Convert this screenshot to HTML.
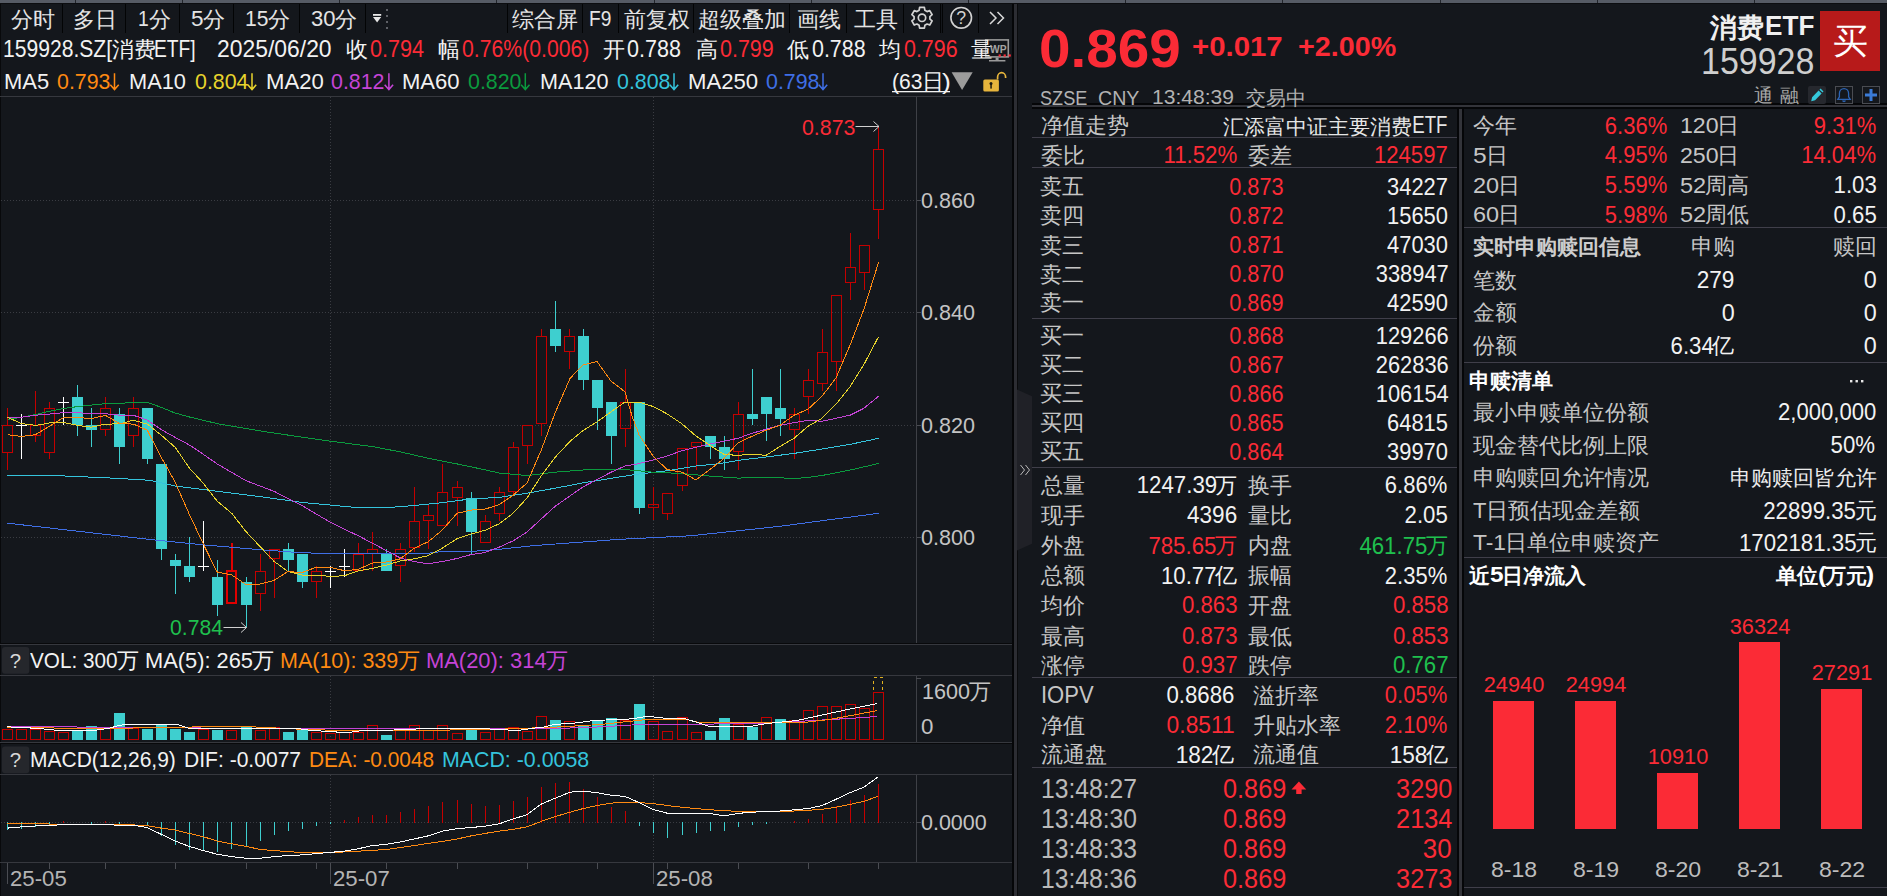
<!DOCTYPE html>
<html lang="zh"><head><meta charset="utf-8"><title>159928 消费ETF</title>
<style>
html,body{margin:0;padding:0;background:#14171c;}
body{width:1887px;height:896px;position:relative;overflow:hidden;font-family:"Liberation Sans",sans-serif;}
#g{position:absolute;left:0;top:0;}
.t{position:absolute;white-space:pre;line-height:1;}
.b{font-weight:700;}
</style></head><body>
<svg id="g" width="1887" height="896" viewBox="0 0 1887 896">
<rect x="0" y="0" width="1887" height="3" fill="#565b65"/>
<rect x="75" y="0" width="1" height="3" fill="#22252b"/>
<rect x="182" y="0" width="1" height="3" fill="#22252b"/>
<rect x="339" y="0" width="1" height="3" fill="#22252b"/>
<rect x="496" y="0" width="1" height="3" fill="#22252b"/>
<rect x="654" y="0" width="1" height="3" fill="#22252b"/>
<rect x="811" y="0" width="1" height="3" fill="#22252b"/>
<rect x="968" y="0" width="1" height="3" fill="#22252b"/>
<rect x="1125" y="0" width="1" height="3" fill="#22252b"/>
<rect x="1282" y="0" width="1" height="3" fill="#22252b"/>
<rect x="1440" y="0" width="1" height="3" fill="#22252b"/>
<rect x="1597" y="0" width="1" height="3" fill="#22252b"/>
<rect x="1754" y="0" width="1" height="3" fill="#22252b"/>
<rect x="0" y="3" width="1887" height="1" fill="#0c0d10"/>
<rect x="62" y="4" width="1" height="29" fill="#030405"/>
<rect x="125" y="4" width="1" height="29" fill="#030405"/>
<rect x="179" y="4" width="1" height="29" fill="#030405"/>
<rect x="233" y="4" width="1" height="29" fill="#030405"/>
<rect x="299" y="4" width="1" height="29" fill="#030405"/>
<rect x="365" y="4" width="1" height="29" fill="#030405"/>
<rect x="507" y="4" width="1" height="29" fill="#030405"/>
<rect x="582" y="4" width="1" height="29" fill="#030405"/>
<rect x="618" y="4" width="1" height="29" fill="#030405"/>
<rect x="693" y="4" width="1" height="29" fill="#030405"/>
<rect x="789" y="4" width="1" height="29" fill="#030405"/>
<rect x="846" y="4" width="1" height="29" fill="#030405"/>
<rect x="903" y="4" width="1" height="29" fill="#030405"/>
<rect x="940" y="4" width="1" height="29" fill="#030405"/>
<rect x="942" y="4" width="1" height="29" fill="#030405"/>
<rect x="978" y="4" width="1" height="29" fill="#030405"/>
<rect x="373" y="14" width="8.2" height="1.8" fill="#e8e8e8"/>
<path d="M373,17 H381.2 L377.1,22.6 Z" fill="#e8e8e8" stroke="none" stroke-width="1" shape-rendering="geometricPrecision"/>
<rect x="386" y="9" width="2" height="2" fill="#5e6066"/>
<rect x="386" y="15" width="2" height="2" fill="#5e6066"/>
<rect x="386" y="21" width="2" height="2" fill="#5e6066"/>
<rect x="386" y="27" width="2" height="2" fill="#5e6066"/>
<path d="M924.38,7.47 L919.62,7.47 L919.13,10.33 L916.97,11.58 L914.25,10.57 L911.86,14.70 L914.10,16.55 L914.10,19.05 L911.86,20.90 L914.25,25.03 L916.97,24.02 L919.13,25.27 L919.62,28.13 L924.38,28.13 L924.87,25.27 L927.03,24.02 L929.75,25.03 L932.14,20.90 L929.90,19.05 L929.90,16.55 L932.14,14.70 L929.75,10.57 L927.03,11.58 L924.87,10.33Z" fill="none" stroke="#d2d2d2" stroke-width="1.7" shape-rendering="geometricPrecision" stroke-linejoin="round"/>
<circle cx="922" cy="17.8" r="3.7" fill="none" stroke="#d2d2d2" stroke-width="1.7"/>
<circle cx="961.2" cy="17.8" r="10.3" fill="none" stroke="#d2d2d2" stroke-width="1.6"/>
<path d="M990,12 L996,18 L990,24 M997.5,12 L1003.5,18 L997.5,24" fill="none" stroke="#d8d8d8" stroke-width="1.5" shape-rendering="geometricPrecision"/>
<rect x="985.7" y="39.9" width="22.6" height="17" fill="#14171c" stroke="#9a9a9a" stroke-width="1.6"/>
<rect x="995.6" y="57.5" width="3" height="2.6" fill="#9a9a9a"/>
<rect x="989" y="60" width="16.4" height="1.5" fill="#9a9a9a"/>
<rect x="998.6" y="54.4" width="2.2" height="2.2" fill="#fb2b36"/>
<rect x="1003.6" y="54.4" width="2.2" height="2.2" fill="#fb2b36"/>
<rect x="1008.6" y="54.4" width="2.2" height="2.2" fill="#fb2b36"/>
<path d="M114.5,73.2 V89.4 M110.3,84.8 L114.5,89.6 L118.7,84.8" fill="none" stroke="#ff8a12" stroke-width="1.5" shape-rendering="geometricPrecision"/>
<path d="M252.0,73.2 V89.4 M247.8,84.8 L252.0,89.6 L256.2,84.8" fill="none" stroke="#e8d42c" stroke-width="1.5" shape-rendering="geometricPrecision"/>
<path d="M388.9,73.2 V89.4 M384.7,84.8 L388.9,89.6 L393.09999999999997,84.8" fill="none" stroke="#c544d6" stroke-width="1.5" shape-rendering="geometricPrecision"/>
<path d="M525.3,73.2 V89.4 M521.0999999999999,84.8 L525.3,89.6 L529.5,84.8" fill="none" stroke="#0b9a3e" stroke-width="1.5" shape-rendering="geometricPrecision"/>
<path d="M674.0,73.2 V89.4 M669.8,84.8 L674.0,89.6 L678.2,84.8" fill="none" stroke="#35c4dc" stroke-width="1.5" shape-rendering="geometricPrecision"/>
<path d="M823.0,73.2 V89.4 M818.8,84.8 L823.0,89.6 L827.2,84.8" fill="none" stroke="#3f6fe6" stroke-width="1.5" shape-rendering="geometricPrecision"/>
<rect x="892" y="91" width="58" height="1.3" fill="#f2f2f2"/>
<path d="M951.6,72.3 H972.7 L962.1,90 Z" fill="#9c9c9c" stroke="none" stroke-width="1" shape-rendering="geometricPrecision"/>
<rect x="983.3" y="79.4" width="15.6" height="12.2" fill="#e7b53c" rx="1.5"/>
<path d="M997.6,79.6 V77 a4,4.3 0 0 1 8,0 V78" fill="none" stroke="#e7b53c" stroke-width="1.7" shape-rendering="geometricPrecision"/>
<circle cx="991" cy="83.6" r="1.5" fill="#1c1a10"/>
<rect x="990.3" y="84" width="1.5" height="4.6" fill="#1c1a10"/>
<rect x="0" y="4" width="1" height="892" fill="#08090b"/>
<rect x="0" y="96" width="1013" height="1" fill="#36383e"/>
<path d="M1,200.5 H916" stroke="#3a3c42" stroke-width="1" stroke-dasharray="1 2" shape-rendering="crispEdges"/>
<rect x="916" y="200" width="5" height="1" fill="#4a4c52"/>
<path d="M1,312.5 H916" stroke="#3a3c42" stroke-width="1" stroke-dasharray="1 2" shape-rendering="crispEdges"/>
<rect x="916" y="312" width="5" height="1" fill="#4a4c52"/>
<path d="M1,425.5 H916" stroke="#3a3c42" stroke-width="1" stroke-dasharray="1 2" shape-rendering="crispEdges"/>
<rect x="916" y="425" width="5" height="1" fill="#4a4c52"/>
<path d="M1,537.5 H916" stroke="#3a3c42" stroke-width="1" stroke-dasharray="1 2" shape-rendering="crispEdges"/>
<rect x="916" y="537" width="5" height="1" fill="#4a4c52"/>
<path d="M330.5,97 V643" stroke="#3a3c42" stroke-width="1" stroke-dasharray="1 2" shape-rendering="crispEdges"/>
<path d="M330.5,676 V742" stroke="#3a3c42" stroke-width="1" stroke-dasharray="1 2" shape-rendering="crispEdges"/>
<path d="M330.5,775 V862" stroke="#3a3c42" stroke-width="1" stroke-dasharray="1 2" shape-rendering="crispEdges"/>
<path d="M653.5,97 V643" stroke="#3a3c42" stroke-width="1" stroke-dasharray="1 2" shape-rendering="crispEdges"/>
<path d="M653.5,676 V742" stroke="#3a3c42" stroke-width="1" stroke-dasharray="1 2" shape-rendering="crispEdges"/>
<path d="M653.5,775 V862" stroke="#3a3c42" stroke-width="1" stroke-dasharray="1 2" shape-rendering="crispEdges"/>
<rect x="916" y="97" width="1" height="546" fill="#3e4046"/>
<rect x="916" y="676" width="1" height="66" fill="#3e4046"/>
<rect x="916" y="775" width="1" height="87" fill="#3e4046"/>
<rect x="0" y="643" width="1013" height="1" fill="#08090b"/>
<rect x="0" y="644" width="1013" height="1" fill="#36383e"/>
<rect x="0" y="675" width="1013" height="1" fill="#36383e"/>
<rect x="0" y="742" width="1013" height="1" fill="#36383e"/>
<rect x="0" y="743" width="1013" height="1" fill="#08090b"/>
<rect x="0" y="774" width="1013" height="1" fill="#36383e"/>
<rect x="0" y="862" width="1013" height="1" fill="#36383e"/>
<rect x="49" y="863" width="1" height="6" fill="#4a4c52"/>
<rect x="105" y="863" width="1" height="6" fill="#4a4c52"/>
<rect x="175" y="863" width="1" height="6" fill="#4a4c52"/>
<rect x="246" y="863" width="1" height="6" fill="#4a4c52"/>
<rect x="316" y="863" width="1" height="6" fill="#4a4c52"/>
<rect x="386" y="863" width="1" height="6" fill="#4a4c52"/>
<rect x="457" y="863" width="1" height="6" fill="#4a4c52"/>
<rect x="527" y="863" width="1" height="6" fill="#4a4c52"/>
<rect x="597" y="863" width="1" height="6" fill="#4a4c52"/>
<rect x="667" y="863" width="1" height="6" fill="#4a4c52"/>
<rect x="738" y="863" width="1" height="6" fill="#4a4c52"/>
<rect x="808" y="863" width="1" height="6" fill="#4a4c52"/>
<rect x="878" y="863" width="1" height="6" fill="#4a4c52"/>
<rect x="7" y="863" width="1" height="21" fill="#4a4c52"/>
<rect x="330" y="863" width="1" height="21" fill="#4a4c52"/>
<rect x="653" y="863" width="1" height="21" fill="#4a4c52"/>
<rect x="1012" y="4" width="2" height="892" fill="#050608"/>
<rect x="1014" y="4" width="3" height="892" fill="#2c2d33"/>
<rect x="1017" y="4" width="1" height="892" fill="#0a0b0d"/>
<path d="M1017,389.5 L1032,396.2 V543.8 L1017,550.5 Z" fill="#202127" stroke="none" stroke-width="1" shape-rendering="geometricPrecision"/>
<path d="M1020.5,465 L1024.5,470 L1020.5,475 M1025.5,465 L1029.5,470 L1025.5,475" fill="none" stroke="#b8b8b8" stroke-width="1" shape-rendering="geometricPrecision"/>
<rect x="7" y="408" width="1" height="17" fill="#c40000" shape-rendering="crispEdges"/>
<rect x="7" y="453" width="1" height="17" fill="#c40000" shape-rendering="crispEdges"/>
<rect x="2.5" y="425.5" width="10" height="27" fill="none" stroke="#c40000" stroke-width="1" shape-rendering="crispEdges"/>
<rect x="21" y="414" width="1" height="45" fill="#ffffff" shape-rendering="crispEdges"/>
<rect x="16" y="425" width="11" height="1" fill="#ffffff" shape-rendering="crispEdges"/>
<rect x="35" y="391" width="1" height="34" fill="#c40000" shape-rendering="crispEdges"/>
<rect x="35" y="436" width="1" height="6" fill="#c40000" shape-rendering="crispEdges"/>
<rect x="30.5" y="425.5" width="10" height="10" fill="none" stroke="#c40000" stroke-width="1" shape-rendering="crispEdges"/>
<rect x="49" y="402" width="1" height="6" fill="#c40000" shape-rendering="crispEdges"/>
<rect x="49" y="453" width="1" height="6" fill="#c40000" shape-rendering="crispEdges"/>
<rect x="44.5" y="408.5" width="10" height="44" fill="none" stroke="#c40000" stroke-width="1" shape-rendering="crispEdges"/>
<rect x="63" y="397" width="1" height="28" fill="#ffffff" shape-rendering="crispEdges"/>
<rect x="58" y="402" width="11" height="1" fill="#ffffff" shape-rendering="crispEdges"/>
<rect x="77" y="385" width="1" height="51" fill="#3ecfcf" shape-rendering="crispEdges"/>
<rect x="72" y="397" width="11" height="28" fill="#3ecfcf" shape-rendering="crispEdges"/>
<rect x="91" y="408" width="1" height="39" fill="#3ecfcf" shape-rendering="crispEdges"/>
<rect x="86" y="425" width="11" height="5" fill="#3ecfcf" shape-rendering="crispEdges"/>
<rect x="105" y="397" width="1" height="11" fill="#c40000" shape-rendering="crispEdges"/>
<rect x="105" y="430" width="1" height="6" fill="#c40000" shape-rendering="crispEdges"/>
<rect x="100.5" y="408.5" width="10" height="21" fill="none" stroke="#c40000" stroke-width="1" shape-rendering="crispEdges"/>
<rect x="119" y="408" width="1" height="56" fill="#3ecfcf" shape-rendering="crispEdges"/>
<rect x="114" y="414" width="11" height="33" fill="#3ecfcf" shape-rendering="crispEdges"/>
<rect x="133" y="397" width="1" height="11" fill="#c40000" shape-rendering="crispEdges"/>
<rect x="133" y="436" width="1" height="11" fill="#c40000" shape-rendering="crispEdges"/>
<rect x="128.5" y="408.5" width="10" height="27" fill="none" stroke="#c40000" stroke-width="1" shape-rendering="crispEdges"/>
<rect x="147" y="408" width="1" height="56" fill="#3ecfcf" shape-rendering="crispEdges"/>
<rect x="142" y="408" width="11" height="51" fill="#3ecfcf" shape-rendering="crispEdges"/>
<rect x="161" y="464" width="1" height="96" fill="#3ecfcf" shape-rendering="crispEdges"/>
<rect x="156" y="464" width="11" height="85" fill="#3ecfcf" shape-rendering="crispEdges"/>
<rect x="175" y="554" width="1" height="40" fill="#3ecfcf" shape-rendering="crispEdges"/>
<rect x="170" y="560" width="11" height="6" fill="#3ecfcf" shape-rendering="crispEdges"/>
<rect x="189" y="537" width="1" height="45" fill="#3ecfcf" shape-rendering="crispEdges"/>
<rect x="184" y="566" width="11" height="11" fill="#3ecfcf" shape-rendering="crispEdges"/>
<rect x="203" y="521" width="1" height="50" fill="#ffffff" shape-rendering="crispEdges"/>
<rect x="198" y="566" width="11" height="1" fill="#ffffff" shape-rendering="crispEdges"/>
<rect x="217" y="560" width="1" height="56" fill="#3ecfcf" shape-rendering="crispEdges"/>
<rect x="212" y="577" width="11" height="28" fill="#3ecfcf" shape-rendering="crispEdges"/>
<rect x="230.5" y="543" width="2" height="27" fill="#e00000" shape-rendering="crispEdges"/>
<rect x="227" y="571" width="9" height="32" fill="none" stroke="#e00000" stroke-width="2" shape-rendering="crispEdges"/>
<rect x="246" y="577" width="1" height="50" fill="#3ecfcf" shape-rendering="crispEdges"/>
<rect x="241" y="582" width="11" height="23" fill="#3ecfcf" shape-rendering="crispEdges"/>
<rect x="260" y="554" width="1" height="17" fill="#c40000" shape-rendering="crispEdges"/>
<rect x="260" y="594" width="1" height="17" fill="#c40000" shape-rendering="crispEdges"/>
<rect x="255.5" y="571.5" width="10" height="22" fill="none" stroke="#c40000" stroke-width="1" shape-rendering="crispEdges"/>
<rect x="274" y="559" width="1" height="39" fill="#c40000" shape-rendering="crispEdges"/>
<rect x="269.5" y="549.5" width="10" height="9" fill="none" stroke="#c40000" stroke-width="1" shape-rendering="crispEdges"/>
<rect x="288" y="543" width="1" height="28" fill="#3ecfcf" shape-rendering="crispEdges"/>
<rect x="283" y="549" width="11" height="11" fill="#3ecfcf" shape-rendering="crispEdges"/>
<rect x="302" y="554" width="1" height="34" fill="#3ecfcf" shape-rendering="crispEdges"/>
<rect x="297" y="554" width="11" height="28" fill="#3ecfcf" shape-rendering="crispEdges"/>
<rect x="316" y="566" width="1" height="5" fill="#c40000" shape-rendering="crispEdges"/>
<rect x="316" y="582" width="1" height="16" fill="#c40000" shape-rendering="crispEdges"/>
<rect x="311.5" y="571.5" width="10" height="10" fill="none" stroke="#c40000" stroke-width="1" shape-rendering="crispEdges"/>
<rect x="330" y="566" width="1" height="22" fill="#ffffff" shape-rendering="crispEdges"/>
<rect x="325" y="571" width="11" height="1" fill="#ffffff" shape-rendering="crispEdges"/>
<rect x="344" y="549" width="1" height="28" fill="#ffffff" shape-rendering="crispEdges"/>
<rect x="339" y="566" width="11" height="1" fill="#ffffff" shape-rendering="crispEdges"/>
<rect x="358" y="543" width="1" height="11" fill="#c40000" shape-rendering="crispEdges"/>
<rect x="353.5" y="554.5" width="10" height="16" fill="none" stroke="#c40000" stroke-width="1" shape-rendering="crispEdges"/>
<rect x="372" y="532" width="1" height="17" fill="#c40000" shape-rendering="crispEdges"/>
<rect x="372" y="554" width="1" height="17" fill="#c40000" shape-rendering="crispEdges"/>
<rect x="367.5" y="549.5" width="10" height="4" fill="none" stroke="#c40000" stroke-width="1" shape-rendering="crispEdges"/>
<rect x="386" y="549" width="1" height="22" fill="#3ecfcf" shape-rendering="crispEdges"/>
<rect x="381" y="554" width="11" height="17" fill="#3ecfcf" shape-rendering="crispEdges"/>
<rect x="400" y="543" width="1" height="6" fill="#c40000" shape-rendering="crispEdges"/>
<rect x="400" y="566" width="1" height="16" fill="#c40000" shape-rendering="crispEdges"/>
<rect x="395.5" y="549.5" width="10" height="16" fill="none" stroke="#c40000" stroke-width="1" shape-rendering="crispEdges"/>
<rect x="414" y="487" width="1" height="34" fill="#c40000" shape-rendering="crispEdges"/>
<rect x="414" y="548" width="1" height="4" fill="#c40000" shape-rendering="crispEdges"/>
<rect x="409.5" y="521.5" width="10" height="26" fill="none" stroke="#c40000" stroke-width="1" shape-rendering="crispEdges"/>
<rect x="428" y="505" width="1" height="10" fill="#c40000" shape-rendering="crispEdges"/>
<rect x="428" y="521" width="1" height="28" fill="#c40000" shape-rendering="crispEdges"/>
<rect x="423.5" y="515.5" width="10" height="5" fill="none" stroke="#c40000" stroke-width="1" shape-rendering="crispEdges"/>
<rect x="442" y="464" width="1" height="28" fill="#c40000" shape-rendering="crispEdges"/>
<rect x="437.5" y="492.5" width="10" height="33" fill="none" stroke="#c40000" stroke-width="1" shape-rendering="crispEdges"/>
<rect x="457" y="481" width="1" height="6" fill="#c40000" shape-rendering="crispEdges"/>
<rect x="457" y="498" width="1" height="28" fill="#c40000" shape-rendering="crispEdges"/>
<rect x="452.5" y="487.5" width="10" height="10" fill="none" stroke="#c40000" stroke-width="1" shape-rendering="crispEdges"/>
<rect x="471" y="492" width="1" height="62" fill="#3ecfcf" shape-rendering="crispEdges"/>
<rect x="466" y="498" width="11" height="34" fill="#3ecfcf" shape-rendering="crispEdges"/>
<rect x="485" y="515" width="1" height="6" fill="#c40000" shape-rendering="crispEdges"/>
<rect x="480.5" y="521.5" width="10" height="21" fill="none" stroke="#c40000" stroke-width="1" shape-rendering="crispEdges"/>
<rect x="499" y="487" width="1" height="5" fill="#c40000" shape-rendering="crispEdges"/>
<rect x="499" y="514" width="1" height="7" fill="#c40000" shape-rendering="crispEdges"/>
<rect x="494.5" y="492.5" width="10" height="21" fill="none" stroke="#c40000" stroke-width="1" shape-rendering="crispEdges"/>
<rect x="513" y="442" width="1" height="5" fill="#c40000" shape-rendering="crispEdges"/>
<rect x="513" y="492" width="1" height="4" fill="#c40000" shape-rendering="crispEdges"/>
<rect x="508.5" y="447.5" width="10" height="44" fill="none" stroke="#c40000" stroke-width="1" shape-rendering="crispEdges"/>
<rect x="527" y="446" width="1" height="18" fill="#c40000" shape-rendering="crispEdges"/>
<rect x="522.5" y="425.5" width="10" height="20" fill="none" stroke="#c40000" stroke-width="1" shape-rendering="crispEdges"/>
<rect x="541" y="329" width="1" height="7" fill="#c40000" shape-rendering="crispEdges"/>
<rect x="541" y="424" width="1" height="12" fill="#c40000" shape-rendering="crispEdges"/>
<rect x="536.5" y="336.5" width="10" height="87" fill="none" stroke="#c40000" stroke-width="1" shape-rendering="crispEdges"/>
<rect x="555" y="301" width="1" height="51" fill="#3ecfcf" shape-rendering="crispEdges"/>
<rect x="550" y="329" width="11" height="17" fill="#3ecfcf" shape-rendering="crispEdges"/>
<rect x="569" y="329" width="1" height="7" fill="#c40000" shape-rendering="crispEdges"/>
<rect x="569" y="352" width="1" height="17" fill="#c40000" shape-rendering="crispEdges"/>
<rect x="564.5" y="336.5" width="10" height="15" fill="none" stroke="#c40000" stroke-width="1" shape-rendering="crispEdges"/>
<rect x="583" y="329" width="1" height="61" fill="#3ecfcf" shape-rendering="crispEdges"/>
<rect x="578" y="336" width="11" height="44" fill="#3ecfcf" shape-rendering="crispEdges"/>
<rect x="597" y="380" width="1" height="50" fill="#3ecfcf" shape-rendering="crispEdges"/>
<rect x="592" y="380" width="11" height="28" fill="#3ecfcf" shape-rendering="crispEdges"/>
<rect x="611" y="402" width="1" height="62" fill="#3ecfcf" shape-rendering="crispEdges"/>
<rect x="606" y="402" width="11" height="34" fill="#3ecfcf" shape-rendering="crispEdges"/>
<rect x="625" y="369" width="1" height="33" fill="#c40000" shape-rendering="crispEdges"/>
<rect x="625" y="429" width="1" height="18" fill="#c40000" shape-rendering="crispEdges"/>
<rect x="620.5" y="402.5" width="10" height="26" fill="none" stroke="#c40000" stroke-width="1" shape-rendering="crispEdges"/>
<rect x="639" y="402" width="1" height="112" fill="#3ecfcf" shape-rendering="crispEdges"/>
<rect x="634" y="402" width="11" height="106" fill="#3ecfcf" shape-rendering="crispEdges"/>
<rect x="653" y="487" width="1" height="17" fill="#c40000" shape-rendering="crispEdges"/>
<rect x="653" y="508" width="1" height="12" fill="#c40000" shape-rendering="crispEdges"/>
<rect x="648.5" y="504.5" width="10" height="3" fill="none" stroke="#c40000" stroke-width="1" shape-rendering="crispEdges"/>
<rect x="667" y="514" width="1" height="6" fill="#c40000" shape-rendering="crispEdges"/>
<rect x="662.5" y="493.5" width="10" height="20" fill="none" stroke="#c40000" stroke-width="1" shape-rendering="crispEdges"/>
<rect x="682" y="486" width="1" height="5" fill="#c40000" shape-rendering="crispEdges"/>
<rect x="677.5" y="448.5" width="10" height="37" fill="none" stroke="#c40000" stroke-width="1" shape-rendering="crispEdges"/>
<rect x="696" y="447" width="1" height="23" fill="#c40000" shape-rendering="crispEdges"/>
<rect x="691.5" y="442.5" width="10" height="4" fill="none" stroke="#c40000" stroke-width="1" shape-rendering="crispEdges"/>
<rect x="710" y="436" width="1" height="23" fill="#3ecfcf" shape-rendering="crispEdges"/>
<rect x="705" y="436" width="11" height="11" fill="#3ecfcf" shape-rendering="crispEdges"/>
<rect x="724" y="436" width="1" height="34" fill="#3ecfcf" shape-rendering="crispEdges"/>
<rect x="719" y="447" width="11" height="12" fill="#3ecfcf" shape-rendering="crispEdges"/>
<rect x="738" y="402" width="1" height="12" fill="#c40000" shape-rendering="crispEdges"/>
<rect x="738" y="452" width="1" height="18" fill="#c40000" shape-rendering="crispEdges"/>
<rect x="733.5" y="414.5" width="10" height="37" fill="none" stroke="#c40000" stroke-width="1" shape-rendering="crispEdges"/>
<rect x="752" y="369" width="1" height="56" fill="#3ecfcf" shape-rendering="crispEdges"/>
<rect x="747" y="414" width="11" height="5" fill="#3ecfcf" shape-rendering="crispEdges"/>
<rect x="766" y="397" width="1" height="44" fill="#3ecfcf" shape-rendering="crispEdges"/>
<rect x="761" y="397" width="11" height="17" fill="#3ecfcf" shape-rendering="crispEdges"/>
<rect x="780" y="369" width="1" height="67" fill="#3ecfcf" shape-rendering="crispEdges"/>
<rect x="775" y="408" width="11" height="11" fill="#3ecfcf" shape-rendering="crispEdges"/>
<rect x="794" y="408" width="1" height="6" fill="#c40000" shape-rendering="crispEdges"/>
<rect x="794" y="430" width="1" height="29" fill="#c40000" shape-rendering="crispEdges"/>
<rect x="789.5" y="414.5" width="10" height="15" fill="none" stroke="#c40000" stroke-width="1" shape-rendering="crispEdges"/>
<rect x="808" y="369" width="1" height="11" fill="#c40000" shape-rendering="crispEdges"/>
<rect x="808" y="397" width="1" height="17" fill="#c40000" shape-rendering="crispEdges"/>
<rect x="803.5" y="380.5" width="10" height="16" fill="none" stroke="#c40000" stroke-width="1" shape-rendering="crispEdges"/>
<rect x="822" y="329" width="1" height="23" fill="#c40000" shape-rendering="crispEdges"/>
<rect x="822" y="384" width="1" height="7" fill="#c40000" shape-rendering="crispEdges"/>
<rect x="817.5" y="352.5" width="10" height="31" fill="none" stroke="#c40000" stroke-width="1" shape-rendering="crispEdges"/>
<rect x="836" y="362" width="1" height="29" fill="#c40000" shape-rendering="crispEdges"/>
<rect x="831.5" y="295.5" width="10" height="66" fill="none" stroke="#c40000" stroke-width="1" shape-rendering="crispEdges"/>
<rect x="850" y="233" width="1" height="34" fill="#c40000" shape-rendering="crispEdges"/>
<rect x="850" y="283" width="1" height="17" fill="#c40000" shape-rendering="crispEdges"/>
<rect x="845.5" y="267.5" width="10" height="15" fill="none" stroke="#c40000" stroke-width="1" shape-rendering="crispEdges"/>
<rect x="864" y="273" width="1" height="17" fill="#c40000" shape-rendering="crispEdges"/>
<rect x="859.5" y="245.5" width="10" height="27" fill="none" stroke="#c40000" stroke-width="1" shape-rendering="crispEdges"/>
<rect x="878" y="127" width="1" height="22" fill="#c40000" shape-rendering="crispEdges"/>
<rect x="878" y="210" width="1" height="29" fill="#c40000" shape-rendering="crispEdges"/>
<rect x="873.5" y="149.5" width="10" height="60" fill="none" stroke="#c40000" stroke-width="1" shape-rendering="crispEdges"/>
<polyline points="6.9,523.1 150.0,539.5 203.0,544.8 260.0,549.7 302.0,552.8 350.0,553.9 428.0,553.2 442.0,551.5 471.0,551.5 499.0,549.3 535.0,545.5 620.0,539.3 690.0,535.8 738.0,530.8 780.0,526.3 822.0,520.7 850.0,517.1 878.6,513.3" fill="none" stroke="#3f6fe6" stroke-width="1.0" stroke-linejoin="round" shape-rendering="crispEdges"/>
<polyline points="6.9,475.6 56.0,475.6 112.5,478.1 150.0,480.3 175.0,486.0 217.0,491.3 260.0,496.6 302.0,502.4 335.0,505.5 355.0,507.4 390.0,507.4 414.0,505.5 442.0,502.7 471.0,498.9 499.0,497.4 527.0,493.2 555.0,488.2 583.0,482.9 611.0,478.3 639.0,474.0 667.0,470.8 696.0,466.0 720.0,463.6 738.0,460.4 766.0,457.0 794.0,453.4 822.0,449.0 850.0,444.4 878.6,438.3" fill="none" stroke="#35c4dc" stroke-width="1.0" stroke-linejoin="round" shape-rendering="crispEdges"/>
<polyline points="7.5,419.4 21.4,417.4 35.5,414.6 49.4,411.3 63.4,408.5 77.5,406.6 91.5,405.1 105.5,403.7 119.4,403.5 133.5,402.3 147.3,402.3 161.4,407.4 175.0,413.0 189.0,416.9 219.0,424.0 266.0,431.9 320.0,439.7 335.0,441.8 372.0,446.5 400.0,451.8 428.0,458.2 457.0,463.9 485.0,469.8 499.0,473.0 527.0,475.6 555.0,472.2 583.0,470.0 625.0,469.5 653.0,472.2 682.0,473.5 710.0,476.1 738.0,478.1 766.0,477.1 794.0,478.5 808.0,477.5 822.0,475.5 850.0,470.1 878.6,463.5" fill="none" stroke="#0b9a3e" stroke-width="1.0" stroke-linejoin="round" shape-rendering="crispEdges"/>
<polyline points="7.5,418.0 21.4,417.2 35.5,415.2 49.4,414.1 63.4,412.7 77.5,412.7 91.5,413.7 105.5,413.7 119.4,415.2 133.5,415.4 140.0,417.4 147.3,420.2 161.4,429.7 175.4,437.5 189.0,444.8 197.0,450.0 217.0,463.8 246.0,480.7 274.0,491.3 302.0,505.6 330.0,522.1 344.0,529.0 358.0,535.6 386.0,550.4 400.0,557.8 414.0,561.6 428.0,563.8 442.0,561.6 457.0,558.5 471.0,554.6 485.0,552.5 499.0,547.2 513.0,540.9 527.0,532.0 555.0,506.4 583.0,486.9 611.0,472.2 625.0,466.0 639.0,463.6 653.0,460.1 667.0,456.1 682.0,450.7 696.0,447.2 710.0,444.0 738.0,438.3 752.0,433.3 766.0,429.3 780.0,425.3 794.0,422.7 808.0,420.3 822.0,421.3 836.0,418.3 850.0,415.2 864.0,408.2 878.6,396.2" fill="none" stroke="#c544d6" stroke-width="1.0" stroke-linejoin="round" shape-rendering="crispEdges"/>
<polyline points="7.5,417.4 21.4,423.5 35.5,425.4 49.4,423.0 63.4,422.4 77.5,425.4 91.5,427.2 105.5,424.1 119.4,423.9 133.5,420.2 147.3,424.1 161.4,435.3 175.4,447.5 189.0,467.6 203.0,482.9 217.0,500.9 232.0,513.6 246.0,531.6 260.0,546.5 274.0,561.3 288.0,571.5 302.0,575.1 316.0,575.5 330.0,576.2 344.0,575.9 358.0,571.0 372.0,568.4 386.0,565.2 400.0,561.0 414.0,558.9 428.0,555.7 442.0,548.3 457.0,538.7 471.0,534.1 485.0,530.3 499.0,523.9 513.0,513.3 527.0,498.0 541.0,476.2 555.0,457.4 570.0,441.4 583.0,430.6 597.0,421.8 611.0,411.9 625.0,402.0 639.0,402.0 653.0,406.5 667.0,413.8 682.0,423.9 696.0,436.0 710.0,445.4 724.0,454.4 738.0,455.4 752.0,454.0 766.0,455.4 780.0,446.4 794.0,438.3 808.0,426.3 822.0,418.3 836.0,404.2 850.0,386.8 864.0,364.3 878.6,336.6" fill="none" stroke="#e8d42c" stroke-width="1.0" stroke-linejoin="round" shape-rendering="crispEdges"/>
<polyline points="7.5,434.7 21.4,436.4 35.5,434.7 49.4,426.3 63.4,417.6 77.5,417.6 91.5,418.5 105.5,415.4 119.4,423.5 133.5,424.1 147.3,430.2 161.4,457.6 175.0,481.8 189.0,513.6 203.0,543.3 217.0,571.9 232.0,575.1 246.0,584.6 260.0,584.0 274.0,580.4 288.0,571.5 302.0,572.6 316.0,567.3 330.0,567.3 344.0,570.6 358.0,569.5 372.0,563.1 386.0,562.1 400.0,558.9 414.0,548.3 428.0,541.9 442.0,530.3 457.0,513.3 471.0,510.1 485.0,509.1 499.0,504.8 513.0,495.3 527.0,483.0 541.0,450.7 555.0,413.2 570.0,378.4 583.0,365.0 597.0,361.5 611.0,381.1 625.0,391.8 632.0,415.9 639.0,434.7 653.0,456.1 667.0,469.5 682.0,472.2 696.0,479.9 710.0,469.5 724.0,458.4 738.0,442.8 752.0,436.3 766.0,430.3 780.0,425.3 794.0,415.2 808.0,409.2 822.0,396.2 836.0,378.0 850.0,345.3 864.0,309.0 878.6,262.2" fill="none" stroke="#ff8a12" stroke-width="1.0" stroke-linejoin="round" shape-rendering="crispEdges"/>
<path d="M855.5,126.5 H879 M873.5,121.5 L879,126.5 L873.5,131.5" fill="none" stroke="#d0d0d0" stroke-width="1" shape-rendering="geometricPrecision"/>
<path d="M223.5,627.5 H246.5 M241,622.5 L246.5,627.5 L241,632.5" fill="none" stroke="#d0d0d0" stroke-width="1" shape-rendering="geometricPrecision"/>
<rect x="2" y="647" width="27.3" height="26.8" fill="#25272c" rx="3"/>
<rect x="2" y="746.5" width="27.3" height="26.8" fill="#25272c" rx="3"/>
<rect x="2.5" y="729.5" width="10" height="10" fill="none" stroke="#c40000" stroke-width="1" shape-rendering="crispEdges"/>
<rect x="16.5" y="729.5" width="10" height="10" fill="none" stroke="#c40000" stroke-width="1" shape-rendering="crispEdges"/>
<rect x="30.5" y="729.5" width="10" height="10" fill="none" stroke="#c40000" stroke-width="1" shape-rendering="crispEdges"/>
<rect x="44.5" y="731.5" width="10" height="8" fill="none" stroke="#c40000" stroke-width="1" shape-rendering="crispEdges"/>
<rect x="58.5" y="732.5" width="10" height="7" fill="none" stroke="#c40000" stroke-width="1" shape-rendering="crispEdges"/>
<rect x="72" y="730" width="11" height="10" fill="#3ecfcf" shape-rendering="crispEdges"/>
<rect x="86" y="726" width="11" height="14" fill="#3ecfcf" shape-rendering="crispEdges"/>
<rect x="100.5" y="727.5" width="10" height="12" fill="none" stroke="#c40000" stroke-width="1" shape-rendering="crispEdges"/>
<rect x="114" y="713" width="11" height="27" fill="#3ecfcf" shape-rendering="crispEdges"/>
<rect x="128.5" y="728.5" width="10" height="11" fill="none" stroke="#c40000" stroke-width="1" shape-rendering="crispEdges"/>
<rect x="142" y="729" width="11" height="11" fill="#3ecfcf" shape-rendering="crispEdges"/>
<rect x="156" y="725" width="11" height="15" fill="#3ecfcf" shape-rendering="crispEdges"/>
<rect x="170" y="729" width="11" height="11" fill="#3ecfcf" shape-rendering="crispEdges"/>
<rect x="184" y="732" width="11" height="8" fill="#3ecfcf" shape-rendering="crispEdges"/>
<rect x="198.5" y="729.5" width="10" height="10" fill="none" stroke="#c40000" stroke-width="1" shape-rendering="crispEdges"/>
<rect x="212" y="730" width="11" height="10" fill="#3ecfcf" shape-rendering="crispEdges"/>
<rect x="226.5" y="730.5" width="10" height="9" fill="none" stroke="#c40000" stroke-width="1" shape-rendering="crispEdges"/>
<rect x="241" y="726" width="11" height="14" fill="#3ecfcf" shape-rendering="crispEdges"/>
<rect x="255.5" y="730.5" width="10" height="9" fill="none" stroke="#c40000" stroke-width="1" shape-rendering="crispEdges"/>
<rect x="269.5" y="727.5" width="10" height="12" fill="none" stroke="#c40000" stroke-width="1" shape-rendering="crispEdges"/>
<rect x="283" y="732" width="11" height="8" fill="#3ecfcf" shape-rendering="crispEdges"/>
<rect x="297" y="730" width="11" height="10" fill="#3ecfcf" shape-rendering="crispEdges"/>
<rect x="311.5" y="732.5" width="10" height="7" fill="none" stroke="#c40000" stroke-width="1" shape-rendering="crispEdges"/>
<rect x="325.5" y="733.5" width="10" height="6" fill="none" stroke="#c40000" stroke-width="1" shape-rendering="crispEdges"/>
<rect x="339.5" y="732.5" width="10" height="7" fill="none" stroke="#c40000" stroke-width="1" shape-rendering="crispEdges"/>
<rect x="353.5" y="732.5" width="10" height="7" fill="none" stroke="#c40000" stroke-width="1" shape-rendering="crispEdges"/>
<rect x="367.5" y="725.5" width="10" height="14" fill="none" stroke="#c40000" stroke-width="1" shape-rendering="crispEdges"/>
<rect x="381" y="735" width="11" height="5" fill="#3ecfcf" shape-rendering="crispEdges"/>
<rect x="395.5" y="729.5" width="10" height="10" fill="none" stroke="#c40000" stroke-width="1" shape-rendering="crispEdges"/>
<rect x="409.5" y="725.5" width="10" height="14" fill="none" stroke="#c40000" stroke-width="1" shape-rendering="crispEdges"/>
<rect x="423.5" y="730.5" width="10" height="9" fill="none" stroke="#c40000" stroke-width="1" shape-rendering="crispEdges"/>
<rect x="437.5" y="725.5" width="10" height="14" fill="none" stroke="#c40000" stroke-width="1" shape-rendering="crispEdges"/>
<rect x="452.5" y="733.5" width="10" height="6" fill="none" stroke="#c40000" stroke-width="1" shape-rendering="crispEdges"/>
<rect x="466" y="730" width="11" height="10" fill="#3ecfcf" shape-rendering="crispEdges"/>
<rect x="480.5" y="732.5" width="10" height="7" fill="none" stroke="#c40000" stroke-width="1" shape-rendering="crispEdges"/>
<rect x="494.5" y="729.5" width="10" height="10" fill="none" stroke="#c40000" stroke-width="1" shape-rendering="crispEdges"/>
<rect x="508.5" y="727.5" width="10" height="12" fill="none" stroke="#c40000" stroke-width="1" shape-rendering="crispEdges"/>
<rect x="522.5" y="731.5" width="10" height="8" fill="none" stroke="#c40000" stroke-width="1" shape-rendering="crispEdges"/>
<rect x="536.5" y="716.5" width="10" height="23" fill="none" stroke="#c40000" stroke-width="1" shape-rendering="crispEdges"/>
<rect x="550" y="720" width="11" height="20" fill="#3ecfcf" shape-rendering="crispEdges"/>
<rect x="564.5" y="721.5" width="10" height="18" fill="none" stroke="#c40000" stroke-width="1" shape-rendering="crispEdges"/>
<rect x="578" y="725" width="11" height="15" fill="#3ecfcf" shape-rendering="crispEdges"/>
<rect x="592" y="721" width="11" height="19" fill="#3ecfcf" shape-rendering="crispEdges"/>
<rect x="606" y="718" width="11" height="22" fill="#3ecfcf" shape-rendering="crispEdges"/>
<rect x="620.5" y="720.5" width="10" height="19" fill="none" stroke="#c40000" stroke-width="1" shape-rendering="crispEdges"/>
<rect x="634" y="704" width="11" height="36" fill="#3ecfcf" shape-rendering="crispEdges"/>
<rect x="648.5" y="721.5" width="10" height="18" fill="none" stroke="#c40000" stroke-width="1" shape-rendering="crispEdges"/>
<rect x="662.5" y="731.5" width="10" height="8" fill="none" stroke="#c40000" stroke-width="1" shape-rendering="crispEdges"/>
<rect x="677.5" y="717.5" width="10" height="22" fill="none" stroke="#c40000" stroke-width="1" shape-rendering="crispEdges"/>
<rect x="691.5" y="732.5" width="10" height="7" fill="none" stroke="#c40000" stroke-width="1" shape-rendering="crispEdges"/>
<rect x="705" y="731" width="11" height="9" fill="#3ecfcf" shape-rendering="crispEdges"/>
<rect x="719" y="718" width="11" height="22" fill="#3ecfcf" shape-rendering="crispEdges"/>
<rect x="733.5" y="724.5" width="10" height="15" fill="none" stroke="#c40000" stroke-width="1" shape-rendering="crispEdges"/>
<rect x="747" y="727" width="11" height="13" fill="#3ecfcf" shape-rendering="crispEdges"/>
<rect x="761.5" y="717.5" width="10" height="22" fill="none" stroke="#c40000" stroke-width="1" shape-rendering="crispEdges"/>
<rect x="775" y="719" width="11" height="21" fill="#3ecfcf" shape-rendering="crispEdges"/>
<rect x="789.5" y="720.5" width="10" height="19" fill="none" stroke="#c40000" stroke-width="1" shape-rendering="crispEdges"/>
<rect x="803.5" y="710.5" width="10" height="29" fill="none" stroke="#c40000" stroke-width="1" shape-rendering="crispEdges"/>
<rect x="817.5" y="706.5" width="10" height="33" fill="none" stroke="#c40000" stroke-width="1" shape-rendering="crispEdges"/>
<rect x="831.5" y="706.5" width="10" height="33" fill="none" stroke="#c40000" stroke-width="1" shape-rendering="crispEdges"/>
<rect x="845.5" y="704.5" width="10" height="35" fill="none" stroke="#c40000" stroke-width="1" shape-rendering="crispEdges"/>
<rect x="859.5" y="708.5" width="10" height="31" fill="none" stroke="#c40000" stroke-width="1" shape-rendering="crispEdges"/>
<rect x="873.5" y="692.5" width="10" height="47" fill="none" stroke="#c40000" stroke-width="1" shape-rendering="crispEdges"/>
<path d="M873.5,689.5 V677.5 H882.5 V689.5" fill="none" stroke="#e0b020" stroke-width="1" stroke-dasharray="3 3" shape-rendering="crispEdges"/>
<polyline points="7.0,726.5 57.0,726.5 100.0,727.6 300.0,728.4 560.0,728.4 600.0,726.9 640.0,724.5 760.0,723.7 800.0,721.3 850.0,718.4 877.4,716.5" fill="none" stroke="#c544d6" stroke-width="1" stroke-linejoin="round" shape-rendering="crispEdges"/>
<polyline points="7.0,727.2 100.0,728.8 150.0,727.6 200.0,726.9 254.0,726.9 300.0,729.2 340.0,730.5 420.0,730.5 500.0,729.2 532.0,728.0 560.0,726.9 600.0,724.5 648.0,719.4 686.0,719.2 700.0,722.9 760.0,722.6 800.0,722.9 830.0,719.4 850.0,715.7 877.4,710.6" fill="none" stroke="#ff8a12" stroke-width="1" stroke-linejoin="round" shape-rendering="crispEdges"/>
<polyline points="7.0,726.9 20.7,727.3 43.0,728.9 57.0,730.3 95.4,730.3 110.0,728.0 118.4,725.6 127.0,724.1 176.5,724.1 187.6,728.0 211.4,728.9 254.0,728.9 300.0,728.8 309.5,730.3 338.0,732.1 351.0,732.1 366.8,730.0 379.5,730.3 393.8,730.0 420.8,728.8 478.9,728.4 508.3,730.0 521.0,730.0 532.0,728.4 544.8,726.9 554.4,724.5 576.6,722.9 594.0,720.5 631.8,718.9 647.7,716.2 663.6,718.1 685.9,718.9 709.7,726.4 730.4,726.4 752.6,726.1 765.3,723.7 797.1,720.5 822.6,714.9 848.0,709.4 877.4,703.5" fill="none" stroke="#ffffff" stroke-width="1" stroke-linejoin="round" shape-rendering="crispEdges"/>
<rect x="916" y="678" width="5" height="1" fill="#4a4c52"/>
<path d="M1,822.5 H916" stroke="#3a3c42" stroke-width="1" stroke-dasharray="1 2" shape-rendering="crispEdges"/>
<rect x="916" y="822" width="5" height="1" fill="#4a4c52"/>
<rect x="7" y="822" width="1" height="8" fill="#3ecfcf" shape-rendering="crispEdges"/>
<rect x="21" y="822" width="1" height="7" fill="#3ecfcf" shape-rendering="crispEdges"/>
<rect x="35" y="822" width="1" height="5" fill="#3ecfcf" shape-rendering="crispEdges"/>
<rect x="49" y="822" width="1" height="3" fill="#3ecfcf" shape-rendering="crispEdges"/>
<rect x="63" y="821" width="1" height="2" fill="#c40000" shape-rendering="crispEdges"/>
<rect x="91" y="822" width="1" height="2" fill="#3ecfcf" shape-rendering="crispEdges"/>
<rect x="105" y="821" width="1" height="2" fill="#c40000" shape-rendering="crispEdges"/>
<rect x="119" y="822" width="1" height="3" fill="#3ecfcf" shape-rendering="crispEdges"/>
<rect x="147" y="822" width="1" height="4" fill="#3ecfcf" shape-rendering="crispEdges"/>
<rect x="161" y="822" width="1" height="14" fill="#3ecfcf" shape-rendering="crispEdges"/>
<rect x="175" y="822" width="1" height="23" fill="#3ecfcf" shape-rendering="crispEdges"/>
<rect x="189" y="822" width="1" height="28" fill="#3ecfcf" shape-rendering="crispEdges"/>
<rect x="203" y="822" width="1" height="29" fill="#3ecfcf" shape-rendering="crispEdges"/>
<rect x="217" y="822" width="1" height="30" fill="#3ecfcf" shape-rendering="crispEdges"/>
<rect x="231" y="822" width="1" height="27" fill="#3ecfcf" shape-rendering="crispEdges"/>
<rect x="246" y="822" width="1" height="25" fill="#3ecfcf" shape-rendering="crispEdges"/>
<rect x="260" y="822" width="1" height="19" fill="#3ecfcf" shape-rendering="crispEdges"/>
<rect x="274" y="822" width="1" height="13" fill="#3ecfcf" shape-rendering="crispEdges"/>
<rect x="288" y="822" width="1" height="9" fill="#3ecfcf" shape-rendering="crispEdges"/>
<rect x="302" y="822" width="1" height="7" fill="#3ecfcf" shape-rendering="crispEdges"/>
<rect x="316" y="822" width="1" height="4" fill="#3ecfcf" shape-rendering="crispEdges"/>
<rect x="330" y="822" width="1" height="2" fill="#3ecfcf" shape-rendering="crispEdges"/>
<rect x="344" y="820" width="1" height="3" fill="#c40000" shape-rendering="crispEdges"/>
<rect x="358" y="817" width="1" height="6" fill="#c40000" shape-rendering="crispEdges"/>
<rect x="372" y="815" width="1" height="8" fill="#c40000" shape-rendering="crispEdges"/>
<rect x="386" y="815" width="1" height="8" fill="#c40000" shape-rendering="crispEdges"/>
<rect x="400" y="812" width="1" height="11" fill="#c40000" shape-rendering="crispEdges"/>
<rect x="414" y="809" width="1" height="14" fill="#c40000" shape-rendering="crispEdges"/>
<rect x="428" y="806" width="1" height="17" fill="#c40000" shape-rendering="crispEdges"/>
<rect x="442" y="802" width="1" height="21" fill="#c40000" shape-rendering="crispEdges"/>
<rect x="457" y="800" width="1" height="23" fill="#c40000" shape-rendering="crispEdges"/>
<rect x="471" y="804" width="1" height="19" fill="#c40000" shape-rendering="crispEdges"/>
<rect x="485" y="806" width="1" height="17" fill="#c40000" shape-rendering="crispEdges"/>
<rect x="499" y="805" width="1" height="18" fill="#c40000" shape-rendering="crispEdges"/>
<rect x="513" y="801" width="1" height="22" fill="#c40000" shape-rendering="crispEdges"/>
<rect x="527" y="797" width="1" height="26" fill="#c40000" shape-rendering="crispEdges"/>
<rect x="541" y="787" width="1" height="36" fill="#c40000" shape-rendering="crispEdges"/>
<rect x="555" y="783" width="1" height="40" fill="#c40000" shape-rendering="crispEdges"/>
<rect x="569" y="782" width="1" height="41" fill="#c40000" shape-rendering="crispEdges"/>
<rect x="583" y="789" width="1" height="34" fill="#c40000" shape-rendering="crispEdges"/>
<rect x="597" y="797" width="1" height="26" fill="#c40000" shape-rendering="crispEdges"/>
<rect x="611" y="807" width="1" height="16" fill="#c40000" shape-rendering="crispEdges"/>
<rect x="625" y="811" width="1" height="12" fill="#c40000" shape-rendering="crispEdges"/>
<rect x="639" y="822" width="1" height="4" fill="#3ecfcf" shape-rendering="crispEdges"/>
<rect x="653" y="822" width="1" height="11" fill="#3ecfcf" shape-rendering="crispEdges"/>
<rect x="667" y="822" width="1" height="16" fill="#3ecfcf" shape-rendering="crispEdges"/>
<rect x="682" y="822" width="1" height="13" fill="#3ecfcf" shape-rendering="crispEdges"/>
<rect x="696" y="822" width="1" height="11" fill="#3ecfcf" shape-rendering="crispEdges"/>
<rect x="710" y="822" width="1" height="9" fill="#3ecfcf" shape-rendering="crispEdges"/>
<rect x="724" y="822" width="1" height="9" fill="#3ecfcf" shape-rendering="crispEdges"/>
<rect x="738" y="822" width="1" height="5" fill="#3ecfcf" shape-rendering="crispEdges"/>
<rect x="752" y="822" width="1" height="3" fill="#3ecfcf" shape-rendering="crispEdges"/>
<rect x="766" y="822" width="1" height="2" fill="#3ecfcf" shape-rendering="crispEdges"/>
<rect x="794" y="821" width="1" height="2" fill="#c40000" shape-rendering="crispEdges"/>
<rect x="808" y="819" width="1" height="4" fill="#c40000" shape-rendering="crispEdges"/>
<rect x="822" y="814" width="1" height="9" fill="#c40000" shape-rendering="crispEdges"/>
<rect x="836" y="806" width="1" height="17" fill="#c40000" shape-rendering="crispEdges"/>
<rect x="850" y="800" width="1" height="23" fill="#c40000" shape-rendering="crispEdges"/>
<rect x="864" y="795" width="1" height="28" fill="#c40000" shape-rendering="crispEdges"/>
<rect x="878" y="784" width="1" height="39" fill="#c40000" shape-rendering="crispEdges"/>
<polyline points="7.5,823.7 100.0,824.4 140.0,825.1 147.0,825.6 161.0,828.1 175.0,830.0 189.0,833.4 203.0,836.6 217.0,841.0 232.0,843.9 246.0,846.3 260.0,849.5 274.0,850.5 288.0,851.7 302.0,852.4 330.0,852.4 344.0,852.0 358.0,851.2 386.0,849.5 400.0,847.6 414.0,845.6 428.0,843.4 442.0,841.5 457.0,839.0 471.0,835.9 485.0,833.4 499.0,831.2 513.0,829.3 527.0,826.9 541.0,821.5 555.0,816.6 570.0,812.2 583.0,808.6 597.0,805.6 611.0,803.2 625.0,802.0 639.0,802.5 654.0,803.7 668.0,805.6 682.0,807.3 696.0,808.6 710.0,809.8 724.0,810.5 738.0,811.5 780.0,811.5 794.0,811.0 808.0,810.3 822.0,809.3 836.0,807.3 850.0,804.4 864.0,801.3 878.0,796.4" fill="none" stroke="#ff8a12" stroke-width="1" stroke-linejoin="round" shape-rendering="crispEdges"/>
<polyline points="7.5,828.1 21.0,826.9 50.0,825.1 100.0,824.4 140.0,826.1 147.0,827.6 161.0,834.2 175.0,841.0 189.0,846.3 203.0,850.5 217.0,854.2 232.0,856.6 246.0,858.3 260.0,858.3 274.0,856.6 288.0,855.6 302.0,854.9 316.0,853.7 330.0,852.4 344.0,851.2 358.0,848.8 372.0,845.6 386.0,844.4 400.0,842.0 414.0,839.0 428.0,835.9 442.0,831.2 457.0,828.6 471.0,827.6 485.0,826.1 499.0,823.9 513.0,819.0 527.0,814.7 541.0,804.2 555.0,798.3 570.0,792.2 583.0,791.0 597.0,792.7 611.0,795.2 625.0,796.4 639.0,802.5 654.0,809.8 668.0,813.4 710.0,813.4 724.0,815.9 738.0,813.4 752.0,812.2 766.0,811.5 780.0,811.0 794.0,809.8 808.0,808.6 822.0,805.6 836.0,799.3 850.0,792.7 864.0,787.1 878.0,776.9" fill="none" stroke="#ffffff" stroke-width="1" stroke-linejoin="round" shape-rendering="crispEdges"/>
<rect x="1032" y="103" width="855" height="2" fill="#050608"/>
<rect x="1032" y="105" width="855" height="2" fill="#33343a"/>
<rect x="1032" y="107" width="855" height="2" fill="#050608"/>
<rect x="1457" y="109" width="2" height="787" fill="#050608"/>
<rect x="1459" y="109" width="3" height="787" fill="#33343a"/>
<rect x="1462" y="109" width="2" height="787" fill="#050608"/>
<rect x="1032" y="137" width="425" height="1" fill="#403f4a"/>
<rect x="1032" y="167" width="425" height="1" fill="#403f4a"/>
<rect x="1032" y="318" width="425" height="1" fill="#403f4a"/>
<rect x="1032" y="467" width="425" height="1" fill="#403f4a"/>
<rect x="1032" y="677" width="425" height="1" fill="#403f4a"/>
<rect x="1032" y="767" width="425" height="1" fill="#403f4a"/>
<path d="M1298.9,781.5 L1306.3,789.5 H1301.6 V794 H1296.2 V789.5 H1291.5 Z" fill="#fb2b36" stroke="none" stroke-width="1" shape-rendering="geometricPrecision"/>
<rect x="1820" y="11" width="60" height="60" fill="#b71a1a"/>
<rect x="1808" y="86" width="18" height="18" fill="#26282e" rx="2"/>
<path d="M1811.2,101.2 L1812.1,97.3 L1818.6,90.6 L1821.6,93.5 L1815.1,100.2 Z M1819.5,89.7 L1820.6,88.6 L1823.5,91.5 L1822.5,92.6 Z" fill="#35c9dc" stroke="none" stroke-width="1" shape-rendering="geometricPrecision"/>
<rect x="1835.5" y="86.5" width="17" height="17" fill="none" stroke="#4a4c52" stroke-width="1"/>
<path d="M1837.8,99.3 H1850.2 L1848.6,96.8 V93.4 a4.6,4.9 0 0 0 -9.2,0 V96.8 Z M1842.6,100.6 a1.5,1.4 0 0 0 2.8,0" fill="none" stroke="#2c64b4" stroke-width="1.3" shape-rendering="geometricPrecision"/>
<rect x="1862.5" y="86.5" width="17" height="17" fill="none" stroke="#4a4c52" stroke-width="1"/>
<rect x="1869.5" y="89" width="3" height="12" fill="#3b7bd6"/>
<rect x="1865" y="93.5" width="12" height="3" fill="#3b7bd6"/>
<rect x="1464" y="227" width="423" height="1" fill="#403f4a"/>
<rect x="1464" y="362" width="423" height="1" fill="#403f4a"/>
<rect x="1464" y="557" width="423" height="1" fill="#403f4a"/>
<rect x="1464" y="887" width="423" height="1" fill="#403f4a"/>
<rect x="1850" y="380" width="2.4" height="2.4" fill="#e8e8e8"/>
<rect x="1855.5" y="380" width="2.4" height="2.4" fill="#e8e8e8"/>
<rect x="1861" y="380" width="2.4" height="2.4" fill="#e8e8e8"/>
<rect x="1493" y="701" width="41" height="128" fill="#fb2b36"/>
<rect x="1575" y="701" width="41" height="128" fill="#fb2b36"/>
<rect x="1657" y="773" width="41" height="56" fill="#fb2b36"/>
<rect x="1739" y="642" width="41" height="187" fill="#fb2b36"/>
<rect x="1821" y="689" width="41" height="140" fill="#fb2b36"/>
</svg>
<div class="t" id="t0" style="top:9.5px;font-size:21.5px;color:#e4e4e4;left:10.7px;">分时</div>
<div class="t" id="t1" style="top:9.5px;font-size:21.5px;color:#e4e4e4;left:73.0px;">多日</div>
<div class="t" id="t2" style="top:8.3px;font-size:22.5px;color:#e4e4e4;left:138.0px;transform:scaleX(0.858);transform-origin:0 50%;">1</div>
<div class="t" id="t3" style="top:9.5px;font-size:21.5px;color:#e4e4e4;left:149.0px;">分</div>
<div class="t" id="t4" style="top:8.3px;font-size:22.5px;color:#e4e4e4;left:191.0px;transform:scaleX(1.001);transform-origin:0 50%;">5</div>
<div class="t" id="t5" style="top:9.5px;font-size:21.5px;color:#e4e4e4;left:202.5px;">分</div>
<div class="t" id="t6" style="top:8.3px;font-size:22.5px;color:#e4e4e4;left:245.0px;transform:scaleX(0.935);transform-origin:0 50%;">15</div>
<div class="t" id="t7" style="top:9.5px;font-size:21.5px;color:#e4e4e4;left:268.0px;">分</div>
<div class="t" id="t8" style="top:8.3px;font-size:22.5px;color:#e4e4e4;left:310.6px;transform:scaleX(0.978);transform-origin:0 50%;">30</div>
<div class="t" id="t9" style="top:9.5px;font-size:21.5px;color:#e4e4e4;left:335.0px;">分</div>
<div class="t" id="t10" style="top:9.5px;font-size:21.5px;color:#e4e4e4;left:512.0px;">综合屏</div>
<div class="t" id="t11" style="top:8.3px;font-size:22.5px;color:#e4e4e4;left:589.4px;transform:scaleX(0.850);transform-origin:0 50%;">F9</div>
<div class="t" id="t12" style="top:9.5px;font-size:21.5px;color:#e4e4e4;left:623.5px;">前复权</div>
<div class="t" id="t13" style="top:9.5px;font-size:21.5px;color:#e4e4e4;left:698.0px;">超级叠加</div>
<div class="t" id="t14" style="top:9.5px;font-size:21.5px;color:#e4e4e4;left:796.6px;">画线</div>
<div class="t" id="t15" style="top:9.5px;font-size:21.5px;color:#e4e4e4;left:854.0px;">工具</div>
<div class="t" id="t16" style="top:10.1px;font-size:17.7px;color:#d2d2d2;left:961.2px;transform:translateX(-50%) scaleX(1.000);">?</div>
<div class="t" id="t17" style="top:38.2px;font-size:23.4px;color:#f2f2f2;left:3.4px;transform:scaleX(0.902);transform-origin:0 50%;">159928.SZ[</div>
<div class="t" id="t18" style="top:39.8px;font-size:21.5px;color:#f2f2f2;left:112.0px;">消费</div>
<div class="t" id="t19" style="top:38.2px;font-size:23.4px;color:#f2f2f2;left:153.5px;transform:scaleX(0.823);transform-origin:0 50%;">ETF]</div>
<div class="t" id="t20" style="top:38.2px;font-size:23.4px;color:#f2f2f2;left:216.9px;transform:scaleX(0.979);transform-origin:0 50%;">2025/06/20</div>
<div class="t" id="t21" style="top:39.8px;font-size:21.5px;color:#f2f2f2;left:346.2px;">收</div>
<div class="t" id="t22" style="top:38.2px;font-size:23.4px;color:#fb2b36;left:369.9px;transform:scaleX(0.925);transform-origin:0 50%;">0.794</div>
<div class="t" id="t23" style="top:39.8px;font-size:21.5px;color:#f2f2f2;left:437.7px;">幅</div>
<div class="t" id="t24" style="top:38.2px;font-size:23.4px;color:#fb2b36;left:461.8px;transform:scaleX(0.907);transform-origin:0 50%;">0.76%(0.006)</div>
<div class="t" id="t25" style="top:39.8px;font-size:21.5px;color:#f2f2f2;left:603.0px;">开</div>
<div class="t" id="t26" style="top:38.2px;font-size:23.4px;color:#f2f2f2;left:627.2px;transform:scaleX(0.921);transform-origin:0 50%;">0.788</div>
<div class="t" id="t27" style="top:39.8px;font-size:21.5px;color:#f2f2f2;left:695.6px;">高</div>
<div class="t" id="t28" style="top:38.2px;font-size:23.4px;color:#fb2b36;left:719.9px;transform:scaleX(0.918);transform-origin:0 50%;">0.799</div>
<div class="t" id="t29" style="top:39.8px;font-size:21.5px;color:#f2f2f2;left:787.0px;">低</div>
<div class="t" id="t30" style="top:38.2px;font-size:23.4px;color:#f2f2f2;left:811.9px;transform:scaleX(0.916);transform-origin:0 50%;">0.788</div>
<div class="t" id="t31" style="top:39.8px;font-size:21.5px;color:#f2f2f2;left:879.4px;">均</div>
<div class="t" id="t32" style="top:38.2px;font-size:23.4px;color:#fb2b36;left:903.8px;transform:scaleX(0.916);transform-origin:0 50%;">0.796</div>
<div class="t" id="t33" style="top:39.8px;font-size:21.5px;color:#f2f2f2;left:971.0px;">量</div>
<div class="t b" id="t34" style="top:44.0px;font-size:10.9px;color:#a4a4a4;left:989.7px;transform:scaleX(0.942);transform-origin:0 50%;">WP</div>
<div class="t" id="t35" style="top:71.2px;font-size:22.5px;color:#f2f2f2;left:3.5px;transform:scaleX(0.976);transform-origin:0 50%;">MA5</div>
<div class="t" id="t36" style="top:71.2px;font-size:22.5px;color:#ff8a12;left:57.0px;transform:scaleX(0.949);transform-origin:0 50%;">0.793</div>
<div class="t" id="t37" style="top:71.2px;font-size:22.5px;color:#f2f2f2;left:128.7px;transform:scaleX(0.969);transform-origin:0 50%;">MA10</div>
<div class="t" id="t38" style="top:71.2px;font-size:22.5px;color:#e8d42c;left:194.5px;transform:scaleX(0.949);transform-origin:0 50%;">0.804</div>
<div class="t" id="t39" style="top:71.2px;font-size:22.5px;color:#f2f2f2;left:265.7px;transform:scaleX(0.983);transform-origin:0 50%;">MA20</div>
<div class="t" id="t40" style="top:71.2px;font-size:22.5px;color:#c544d6;left:331.4px;transform:scaleX(0.949);transform-origin:0 50%;">0.812</div>
<div class="t" id="t41" style="top:71.2px;font-size:22.5px;color:#f2f2f2;left:402.4px;transform:scaleX(0.980);transform-origin:0 50%;">MA60</div>
<div class="t" id="t42" style="top:71.2px;font-size:22.5px;color:#0b9a3e;left:467.8px;transform:scaleX(0.949);transform-origin:0 50%;">0.820</div>
<div class="t" id="t43" style="top:71.2px;font-size:22.5px;color:#f2f2f2;left:540.0px;transform:scaleX(0.961);transform-origin:0 50%;">MA120</div>
<div class="t" id="t44" style="top:71.2px;font-size:22.5px;color:#35c4dc;left:616.5px;transform:scaleX(0.949);transform-origin:0 50%;">0.808</div>
<div class="t" id="t45" style="top:71.2px;font-size:22.5px;color:#f2f2f2;left:688.4px;transform:scaleX(0.983);transform-origin:0 50%;">MA250</div>
<div class="t" id="t46" style="top:71.2px;font-size:22.5px;color:#3f6fe6;left:765.5px;transform:scaleX(0.949);transform-origin:0 50%;">0.798</div>
<div class="t" id="t47" style="top:71.2px;font-size:22.5px;color:#f2f2f2;left:891.6px;transform:scaleX(0.934);transform-origin:0 50%;">(63</div>
<div class="t" id="t48" style="top:72.4px;font-size:21.5px;color:#f2f2f2;left:921.5px;">日</div>
<div class="t" id="t49" style="top:71.2px;font-size:22.5px;color:#f2f2f2;left:941.5px;transform:scaleX(1.187);transform-origin:0 50%;">)</div>
<div class="t" id="t50" style="top:116.6px;font-size:21.9px;color:#fb2b36;left:801.5px;transform:scaleX(0.975);transform-origin:0 50%;">0.873</div>
<div class="t" id="t51" style="top:617.0px;font-size:21.9px;color:#1fc04e;left:170.2px;transform:scaleX(0.966);transform-origin:0 50%;">0.784</div>
<div class="t" id="t52" style="top:189.8px;font-size:22.5px;color:#c4c4c4;left:920.8px;transform:scaleX(0.958);transform-origin:0 50%;">0.860</div>
<div class="t" id="t53" style="top:302.2px;font-size:22.5px;color:#c4c4c4;left:920.8px;transform:scaleX(0.958);transform-origin:0 50%;">0.840</div>
<div class="t" id="t54" style="top:415.1px;font-size:22.5px;color:#c4c4c4;left:920.8px;transform:scaleX(0.958);transform-origin:0 50%;">0.820</div>
<div class="t" id="t55" style="top:527.1px;font-size:22.5px;color:#c4c4c4;left:920.8px;transform:scaleX(0.958);transform-origin:0 50%;">0.800</div>
<div class="t" id="t56" style="top:651.1px;font-size:20.3px;color:#d8d8d8;left:15.5px;transform:translateX(-50%) scaleX(1.000);">?</div>
<div class="t" id="t57" style="top:750.4px;font-size:20.3px;color:#d8d8d8;left:15.5px;transform:translateX(-50%) scaleX(1.000);">?</div>
<div class="t" id="t58" style="top:649.5px;font-size:22.5px;color:#f2f2f2;left:29.6px;transform:scaleX(0.920);transform-origin:0 50%;">VOL: 300</div>
<div class="t" id="t59" style="top:650.7px;font-size:21.5px;color:#f2f2f2;left:116.5px;">万</div>
<div class="t" id="t60" style="top:649.5px;font-size:22.5px;color:#f2f2f2;left:145.0px;transform:scaleX(0.970);transform-origin:0 50%;">MA(5): 265</div>
<div class="t" id="t61" style="top:650.7px;font-size:21.5px;color:#f2f2f2;left:251.5px;">万</div>
<div class="t" id="t62" style="top:649.5px;font-size:22.5px;color:#ff8a12;left:280.4px;transform:scaleX(0.955);transform-origin:0 50%;">MA(10): 339</div>
<div class="t" id="t63" style="top:650.7px;font-size:21.5px;color:#ff8a12;left:397.7px;">万</div>
<div class="t" id="t64" style="top:649.5px;font-size:22.5px;color:#c544d6;left:426.4px;transform:scaleX(0.974);transform-origin:0 50%;">MA(20): 314</div>
<div class="t" id="t65" style="top:650.7px;font-size:21.5px;color:#c544d6;left:545.5px;">万</div>
<div class="t" id="t66" style="top:680.8px;font-size:22.5px;color:#c4c4c4;left:921.9px;transform:scaleX(0.958);transform-origin:0 50%;">1600</div>
<div class="t" id="t67" style="top:682.0px;font-size:21.5px;color:#c4c4c4;left:968.7px;">万</div>
<div class="t" id="t68" style="top:716.3px;font-size:22.5px;color:#c4c4c4;left:920.8px;transform:scaleX(0.991);transform-origin:0 50%;">0</div>
<div class="t" id="t69" style="top:748.8px;font-size:22.5px;color:#f2f2f2;left:30.2px;transform:scaleX(0.933);transform-origin:0 50%;">MACD(12,26,9)</div>
<div class="t" id="t70" style="top:748.8px;font-size:22.5px;color:#f2f2f2;left:183.6px;transform:scaleX(0.936);transform-origin:0 50%;">DIF: -0.0077</div>
<div class="t" id="t71" style="top:748.8px;font-size:22.5px;color:#ff8a12;left:309.2px;transform:scaleX(0.926);transform-origin:0 50%;">DEA: -0.0048</div>
<div class="t" id="t72" style="top:748.8px;font-size:22.5px;color:#35c4dc;left:441.9px;transform:scaleX(0.949);transform-origin:0 50%;">MACD: -0.0058</div>
<div class="t" id="t73" style="top:812.1px;font-size:22.5px;color:#c4c4c4;left:920.5px;transform:scaleX(0.955);transform-origin:0 50%;">0.0000</div>
<div class="t" id="t74" style="top:868.3px;font-size:22.5px;color:#b4b4b4;left:10.0px;transform:scaleX(0.987);transform-origin:0 50%;">25-05</div>
<div class="t" id="t75" style="top:868.3px;font-size:22.5px;color:#b4b4b4;left:332.5px;transform:scaleX(0.987);transform-origin:0 50%;">25-07</div>
<div class="t" id="t76" style="top:868.3px;font-size:22.5px;color:#b4b4b4;left:656.0px;transform:scaleX(0.987);transform-origin:0 50%;">25-08</div>
<div class="t b" id="t77" style="top:21.9px;font-size:54.3px;color:#fb2b36;left:1038.9px;transform:scaleX(1.044);transform-origin:0 50%;">0.869</div>
<div class="t b" id="t78" style="top:33.2px;font-size:28px;color:#fb2b36;left:1192.2px;transform:scaleX(1.049);transform-origin:0 50%;">+0.017</div>
<div class="t b" id="t79" style="top:33.2px;font-size:28px;color:#fb2b36;left:1297.5px;transform:scaleX(1.026);transform-origin:0 50%;">+2.00%</div>
<div class="t" id="t80" style="top:87.5px;font-size:20.3px;color:#b2b2b2;left:1039.9px;transform:scaleX(0.893);transform-origin:0 50%;">SZSE</div>
<div class="t" id="t81" style="top:87.5px;font-size:20.3px;color:#b2b2b2;left:1098.4px;transform:scaleX(0.966);transform-origin:0 50%;">CNY</div>
<div class="t" id="t82" style="top:87.2px;font-size:20.8px;color:#b2b2b2;left:1152.3px;transform:scaleX(1.013);transform-origin:0 50%;">13:48:39</div>
<div class="t" id="t83" style="top:88.3px;font-size:20px;color:#b2b2b2;left:1245.7px;">交易中</div>
<div class="t" id="t84" style="top:115.5px;font-size:21.5px;color:#c6c6c6;left:1040.9px;">净值走势</div>
<div class="t" id="t85" style="top:115.6px;font-size:21.2px;color:#e6e6e6;right:475.0px;">汇添富中证主要消费</div>
<div class="t" id="t86" style="top:114.0px;font-size:23px;color:#e6e6e6;right:439.2px;transform:scaleX(0.812);transform-origin:100% 50%;">ETF</div>
<div class="t" id="t87" style="top:145.8px;font-size:21.5px;color:#c6c6c6;left:1040.9px;">委比</div>
<div class="t" id="t88" style="top:144.3px;font-size:23px;color:#fb2b36;right:649.8px;transform:scaleX(0.968);transform-origin:100% 50%;">11.52%</div>
<div class="t" id="t89" style="top:145.8px;font-size:21.5px;color:#c6c6c6;left:1247.7px;">委差</div>
<div class="t" id="t90" style="top:144.3px;font-size:23px;color:#fb2b36;right:439.2px;transform:scaleX(0.961);transform-origin:100% 50%;">124597</div>
<div class="t" id="t91" style="top:177.3px;font-size:21.5px;color:#c6c6c6;left:1040.2px;">卖五</div>
<div class="t" id="t92" style="top:175.8px;font-size:23px;color:#fb2b36;right:603.0px;transform:scaleX(0.944);transform-origin:100% 50%;">0.873</div>
<div class="t" id="t93" style="top:175.8px;font-size:23px;color:#f2f2f2;right:438.6px;transform:scaleX(0.953);transform-origin:100% 50%;">34227</div>
<div class="t" id="t94" style="top:206.2px;font-size:21.5px;color:#c6c6c6;left:1040.2px;">卖四</div>
<div class="t" id="t95" style="top:204.7px;font-size:23px;color:#fb2b36;right:603.0px;transform:scaleX(0.944);transform-origin:100% 50%;">0.872</div>
<div class="t" id="t96" style="top:204.7px;font-size:23px;color:#f2f2f2;right:438.6px;transform:scaleX(0.953);transform-origin:100% 50%;">15650</div>
<div class="t" id="t97" style="top:235.5px;font-size:21.5px;color:#c6c6c6;left:1040.2px;">卖三</div>
<div class="t" id="t98" style="top:234.0px;font-size:23px;color:#fb2b36;right:603.0px;transform:scaleX(0.944);transform-origin:100% 50%;">0.871</div>
<div class="t" id="t99" style="top:234.0px;font-size:23px;color:#f2f2f2;right:438.6px;transform:scaleX(0.953);transform-origin:100% 50%;">47030</div>
<div class="t" id="t100" style="top:264.6px;font-size:21.5px;color:#c6c6c6;left:1040.2px;">卖二</div>
<div class="t" id="t101" style="top:263.1px;font-size:23px;color:#fb2b36;right:603.0px;transform:scaleX(0.944);transform-origin:100% 50%;">0.870</div>
<div class="t" id="t102" style="top:263.1px;font-size:23px;color:#f2f2f2;right:438.6px;transform:scaleX(0.951);transform-origin:100% 50%;">338947</div>
<div class="t" id="t103" style="top:293.3px;font-size:21.5px;color:#c6c6c6;left:1040.2px;">卖一</div>
<div class="t" id="t104" style="top:291.8px;font-size:23px;color:#fb2b36;right:603.0px;transform:scaleX(0.944);transform-origin:100% 50%;">0.869</div>
<div class="t" id="t105" style="top:291.8px;font-size:23px;color:#f2f2f2;right:438.6px;transform:scaleX(0.953);transform-origin:100% 50%;">42590</div>
<div class="t" id="t106" style="top:326.2px;font-size:21.5px;color:#c6c6c6;left:1040.2px;">买一</div>
<div class="t" id="t107" style="top:324.7px;font-size:23px;color:#fb2b36;right:603.0px;transform:scaleX(0.944);transform-origin:100% 50%;">0.868</div>
<div class="t" id="t108" style="top:324.7px;font-size:23px;color:#f2f2f2;right:438.6px;transform:scaleX(0.951);transform-origin:100% 50%;">129266</div>
<div class="t" id="t109" style="top:355.2px;font-size:21.5px;color:#c6c6c6;left:1040.2px;">买二</div>
<div class="t" id="t110" style="top:353.7px;font-size:23px;color:#fb2b36;right:603.0px;transform:scaleX(0.944);transform-origin:100% 50%;">0.867</div>
<div class="t" id="t111" style="top:353.7px;font-size:23px;color:#f2f2f2;right:438.6px;transform:scaleX(0.951);transform-origin:100% 50%;">262836</div>
<div class="t" id="t112" style="top:384.0px;font-size:21.5px;color:#c6c6c6;left:1040.2px;">买三</div>
<div class="t" id="t113" style="top:382.5px;font-size:23px;color:#fb2b36;right:603.0px;transform:scaleX(0.944);transform-origin:100% 50%;">0.866</div>
<div class="t" id="t114" style="top:382.5px;font-size:23px;color:#f2f2f2;right:438.6px;transform:scaleX(0.951);transform-origin:100% 50%;">106154</div>
<div class="t" id="t115" style="top:413.2px;font-size:21.5px;color:#c6c6c6;left:1040.2px;">买四</div>
<div class="t" id="t116" style="top:411.7px;font-size:23px;color:#fb2b36;right:603.0px;transform:scaleX(0.944);transform-origin:100% 50%;">0.865</div>
<div class="t" id="t117" style="top:411.7px;font-size:23px;color:#f2f2f2;right:438.6px;transform:scaleX(0.953);transform-origin:100% 50%;">64815</div>
<div class="t" id="t118" style="top:442.0px;font-size:21.5px;color:#c6c6c6;left:1040.2px;">买五</div>
<div class="t" id="t119" style="top:440.5px;font-size:23px;color:#fb2b36;right:603.0px;transform:scaleX(0.944);transform-origin:100% 50%;">0.864</div>
<div class="t" id="t120" style="top:440.5px;font-size:23px;color:#f2f2f2;right:438.6px;transform:scaleX(0.953);transform-origin:100% 50%;">39970</div>
<div class="t" id="t121" style="top:475.6px;font-size:21.5px;color:#c6c6c6;left:1041.1px;">总量</div>
<div class="t" id="t122" style="top:475.6px;font-size:21.5px;color:#f2f2f2;right:649.6px;">万</div>
<div class="t" id="t123" style="top:474.1px;font-size:23px;color:#f2f2f2;right:670.2px;transform:scaleX(0.967);transform-origin:100% 50%;">1247.39</div>
<div class="t" id="t124" style="top:475.6px;font-size:21.5px;color:#c6c6c6;left:1248.2px;">换手</div>
<div class="t" id="t125" style="top:474.1px;font-size:23px;color:#f2f2f2;right:439.8px;transform:scaleX(0.956);transform-origin:100% 50%;">6.86%</div>
<div class="t" id="t126" style="top:505.9px;font-size:21.5px;color:#c6c6c6;left:1041.1px;">现手</div>
<div class="t" id="t127" style="top:504.4px;font-size:23px;color:#f2f2f2;right:649.4px;transform:scaleX(0.980);transform-origin:100% 50%;">4396</div>
<div class="t" id="t128" style="top:505.9px;font-size:21.5px;color:#c6c6c6;left:1248.2px;">量比</div>
<div class="t" id="t129" style="top:504.4px;font-size:23px;color:#f2f2f2;right:438.8px;transform:scaleX(0.965);transform-origin:100% 50%;">2.05</div>
<div class="t" id="t130" style="top:536.2px;font-size:21.5px;color:#c6c6c6;left:1041.1px;">外盘</div>
<div class="t" id="t131" style="top:536.2px;font-size:21.5px;color:#fb2b36;right:649.6px;">万</div>
<div class="t" id="t132" style="top:534.7px;font-size:23px;color:#fb2b36;right:670.2px;transform:scaleX(0.966);transform-origin:100% 50%;">785.65</div>
<div class="t" id="t133" style="top:536.2px;font-size:21.5px;color:#c6c6c6;left:1248.2px;">内盘</div>
<div class="t" id="t134" style="top:536.2px;font-size:21.5px;color:#1fc04e;right:439.0px;">万</div>
<div class="t" id="t135" style="top:534.7px;font-size:23px;color:#1fc04e;right:459.6px;transform:scaleX(0.966);transform-origin:100% 50%;">461.75</div>
<div class="t" id="t136" style="top:566.2px;font-size:21.5px;color:#c6c6c6;left:1041.1px;">总额</div>
<div class="t" id="t137" style="top:566.2px;font-size:21.5px;color:#f2f2f2;right:649.6px;">亿</div>
<div class="t" id="t138" style="top:564.7px;font-size:23px;color:#f2f2f2;right:670.2px;transform:scaleX(0.966);transform-origin:100% 50%;">10.77</div>
<div class="t" id="t139" style="top:566.2px;font-size:21.5px;color:#c6c6c6;left:1248.2px;">振幅</div>
<div class="t" id="t140" style="top:564.7px;font-size:23px;color:#f2f2f2;right:439.8px;transform:scaleX(0.956);transform-origin:100% 50%;">2.35%</div>
<div class="t" id="t141" style="top:595.7px;font-size:21.5px;color:#c6c6c6;left:1041.1px;">均价</div>
<div class="t" id="t142" style="top:594.2px;font-size:23px;color:#fb2b36;right:649.4px;transform:scaleX(0.966);transform-origin:100% 50%;">0.863</div>
<div class="t" id="t143" style="top:595.7px;font-size:21.5px;color:#c6c6c6;left:1248.2px;">开盘</div>
<div class="t" id="t144" style="top:594.2px;font-size:23px;color:#fb2b36;right:438.8px;transform:scaleX(0.966);transform-origin:100% 50%;">0.858</div>
<div class="t" id="t145" style="top:626.5px;font-size:21.5px;color:#c6c6c6;left:1041.1px;">最高</div>
<div class="t" id="t146" style="top:625.0px;font-size:23px;color:#fb2b36;right:649.4px;transform:scaleX(0.966);transform-origin:100% 50%;">0.873</div>
<div class="t" id="t147" style="top:626.5px;font-size:21.5px;color:#c6c6c6;left:1248.2px;">最低</div>
<div class="t" id="t148" style="top:625.0px;font-size:23px;color:#fb2b36;right:438.8px;transform:scaleX(0.966);transform-origin:100% 50%;">0.853</div>
<div class="t" id="t149" style="top:655.9px;font-size:21.5px;color:#c6c6c6;left:1041.1px;">涨停</div>
<div class="t" id="t150" style="top:654.4px;font-size:23px;color:#fb2b36;right:649.4px;transform:scaleX(0.966);transform-origin:100% 50%;">0.937</div>
<div class="t" id="t151" style="top:655.9px;font-size:21.5px;color:#c6c6c6;left:1248.2px;">跌停</div>
<div class="t" id="t152" style="top:654.4px;font-size:23px;color:#1fc04e;right:438.8px;transform:scaleX(0.966);transform-origin:100% 50%;">0.767</div>
<div class="t" id="t153" style="top:684.1px;font-size:23px;color:#c6c6c6;left:1040.7px;transform:scaleX(0.958);transform-origin:0 50%;">IOPV</div>
<div class="t" id="t154" style="top:684.1px;font-size:23px;color:#f2f2f2;right:652.5px;transform:scaleX(0.966);transform-origin:100% 50%;">0.8686</div>
<div class="t" id="t155" style="top:685.6px;font-size:21.5px;color:#c6c6c6;left:1252.8px;">溢折率</div>
<div class="t" id="t156" style="top:684.1px;font-size:23px;color:#fb2b36;right:440.2px;transform:scaleX(0.956);transform-origin:100% 50%;">0.05%</div>
<div class="t" id="t157" style="top:715.6px;font-size:21.5px;color:#c6c6c6;left:1040.7px;">净值</div>
<div class="t" id="t158" style="top:714.1px;font-size:23px;color:#fb2b36;right:652.5px;transform:scaleX(0.991);transform-origin:100% 50%;">0.8511</div>
<div class="t" id="t159" style="top:715.6px;font-size:21.5px;color:#c6c6c6;left:1252.8px;">升贴水率</div>
<div class="t" id="t160" style="top:714.1px;font-size:23px;color:#fb2b36;right:440.2px;transform:scaleX(0.956);transform-origin:100% 50%;">2.10%</div>
<div class="t" id="t161" style="top:745.4px;font-size:21.5px;color:#c6c6c6;left:1040.7px;">流通盘</div>
<div class="t" id="t162" style="top:745.4px;font-size:21.5px;color:#f2f2f2;right:652.7px;">亿</div>
<div class="t" id="t163" style="top:743.9px;font-size:23px;color:#f2f2f2;right:673.3px;transform:scaleX(0.983);transform-origin:100% 50%;">182</div>
<div class="t" id="t164" style="top:745.4px;font-size:21.5px;color:#c6c6c6;left:1252.8px;">流通值</div>
<div class="t" id="t165" style="top:745.4px;font-size:21.5px;color:#f2f2f2;right:439.4px;">亿</div>
<div class="t" id="t166" style="top:743.9px;font-size:23px;color:#f2f2f2;right:460.0px;transform:scaleX(0.983);transform-origin:100% 50%;">158</div>
<div class="t" id="t167" style="top:774.6px;font-size:27.6px;color:#bababa;left:1040.5px;transform:scaleX(0.894);transform-origin:0 50%;">13:48:27</div>
<div class="t" id="t168" style="top:774.6px;font-size:27.6px;color:#fb2b36;left:1223.3px;transform:scaleX(0.916);transform-origin:0 50%;">0.869</div>
<div class="t" id="t169" style="top:774.6px;font-size:27.6px;color:#fb2b36;right:435.0px;transform:scaleX(0.917);transform-origin:100% 50%;">3290</div>
<div class="t" id="t170" style="top:804.8px;font-size:27.6px;color:#bababa;left:1040.5px;transform:scaleX(0.894);transform-origin:0 50%;">13:48:30</div>
<div class="t" id="t171" style="top:804.8px;font-size:27.6px;color:#fb2b36;left:1223.3px;transform:scaleX(0.916);transform-origin:0 50%;">0.869</div>
<div class="t" id="t172" style="top:804.8px;font-size:27.6px;color:#fb2b36;right:435.0px;transform:scaleX(0.917);transform-origin:100% 50%;">2134</div>
<div class="t" id="t173" style="top:835.0px;font-size:27.6px;color:#bababa;left:1040.5px;transform:scaleX(0.894);transform-origin:0 50%;">13:48:33</div>
<div class="t" id="t174" style="top:835.0px;font-size:27.6px;color:#fb2b36;left:1223.3px;transform:scaleX(0.916);transform-origin:0 50%;">0.869</div>
<div class="t" id="t175" style="top:835.0px;font-size:27.6px;color:#fb2b36;right:435.0px;transform:scaleX(0.939);transform-origin:100% 50%;">30</div>
<div class="t" id="t176" style="top:864.8px;font-size:27.6px;color:#bababa;left:1040.5px;transform:scaleX(0.894);transform-origin:0 50%;">13:48:36</div>
<div class="t" id="t177" style="top:864.8px;font-size:27.6px;color:#fb2b36;left:1223.3px;transform:scaleX(0.916);transform-origin:0 50%;">0.869</div>
<div class="t" id="t178" style="top:864.8px;font-size:27.6px;color:#fb2b36;right:435.0px;transform:scaleX(0.917);transform-origin:100% 50%;">3273</div>
<div class="t b" id="t179" style="top:14.5px;font-size:26.5px;color:#f0f0f0;left:1709.6px;">消费</div>
<div class="t b" id="t180" style="top:11.8px;font-size:28.1px;color:#f0f0f0;left:1765.0px;transform:scaleX(0.930);transform-origin:0 50%;">ETF</div>
<div class="t" id="t181" style="top:43.8px;font-size:36.4px;color:#cfcfcf;left:1701.3px;transform:scaleX(0.934);transform-origin:0 50%;">159928</div>
<div class="t" id="t182" style="top:23.1px;font-size:35px;color:#ffffff;left:1850.0px;transform:translateX(-50%) scaleX(1.000);">买</div>
<div class="t" id="t183" style="top:87.4px;font-size:18.5px;color:#a6a6a6;left:1754.2px;">通</div>
<div class="t" id="t184" style="top:87.4px;font-size:18.5px;color:#a6a6a6;left:1780.4px;">融</div>
<div class="t" id="t185" style="top:116.0px;font-size:21.5px;color:#c6c6c6;left:1473.4px;">今年</div>
<div class="t" id="t186" style="top:114.5px;font-size:23px;color:#fb2b36;right:220.0px;transform:scaleX(0.956);transform-origin:100% 50%;">6.36%</div>
<div class="t" id="t187" style="top:114.8px;font-size:22.5px;color:#c6c6c6;left:1679.6px;transform:scaleX(1.028);transform-origin:0 50%;">120</div>
<div class="t" id="t188" style="top:116.0px;font-size:21.5px;color:#c6c6c6;left:1717.1px;">日</div>
<div class="t" id="t189" style="top:114.5px;font-size:23px;color:#fb2b36;right:10.8px;transform:scaleX(0.956);transform-origin:100% 50%;">9.31%</div>
<div class="t" id="t190" style="top:144.6px;font-size:22.5px;color:#c6c6c6;left:1473.4px;transform:scaleX(1.096);transform-origin:0 50%;">5</div>
<div class="t" id="t191" style="top:145.8px;font-size:21.5px;color:#c6c6c6;left:1485.9px;">日</div>
<div class="t" id="t192" style="top:144.3px;font-size:23px;color:#fb2b36;right:220.0px;transform:scaleX(0.956);transform-origin:100% 50%;">4.95%</div>
<div class="t" id="t193" style="top:144.6px;font-size:22.5px;color:#c6c6c6;left:1679.6px;transform:scaleX(1.028);transform-origin:0 50%;">250</div>
<div class="t" id="t194" style="top:145.8px;font-size:21.5px;color:#c6c6c6;left:1717.1px;">日</div>
<div class="t" id="t195" style="top:144.3px;font-size:23px;color:#fb2b36;right:10.8px;transform:scaleX(0.959);transform-origin:100% 50%;">14.04%</div>
<div class="t" id="t196" style="top:174.7px;font-size:22.5px;color:#c6c6c6;left:1473.4px;transform:scaleX(1.043);transform-origin:0 50%;">20</div>
<div class="t" id="t197" style="top:175.9px;font-size:21.5px;color:#c6c6c6;left:1498.4px;">日</div>
<div class="t" id="t198" style="top:174.4px;font-size:23px;color:#fb2b36;right:220.0px;transform:scaleX(0.956);transform-origin:100% 50%;">5.59%</div>
<div class="t" id="t199" style="top:174.7px;font-size:22.5px;color:#c6c6c6;left:1679.6px;transform:scaleX(1.043);transform-origin:0 50%;">52</div>
<div class="t" id="t200" style="top:175.9px;font-size:21.5px;color:#c6c6c6;left:1704.6px;">周高</div>
<div class="t" id="t201" style="top:174.4px;font-size:23px;color:#f2f2f2;right:9.8px;transform:scaleX(0.965);transform-origin:100% 50%;">1.03</div>
<div class="t" id="t202" style="top:204.2px;font-size:22.5px;color:#c6c6c6;left:1473.4px;transform:scaleX(1.043);transform-origin:0 50%;">60</div>
<div class="t" id="t203" style="top:205.4px;font-size:21.5px;color:#c6c6c6;left:1498.4px;">日</div>
<div class="t" id="t204" style="top:203.9px;font-size:23px;color:#fb2b36;right:220.0px;transform:scaleX(0.956);transform-origin:100% 50%;">5.98%</div>
<div class="t" id="t205" style="top:204.2px;font-size:22.5px;color:#c6c6c6;left:1679.6px;transform:scaleX(1.043);transform-origin:0 50%;">52</div>
<div class="t" id="t206" style="top:205.4px;font-size:21.5px;color:#c6c6c6;left:1704.6px;">周低</div>
<div class="t" id="t207" style="top:203.9px;font-size:23px;color:#f2f2f2;right:9.8px;transform:scaleX(0.965);transform-origin:100% 50%;">0.65</div>
<div class="t b" id="t208" style="top:237.3px;font-size:21.4px;color:#cdcdcd;left:1473.1px;">实时申购赎回信息</div>
<div class="t" id="t209" style="top:237.3px;font-size:21.5px;color:#c6c6c6;right:152.5px;">申购</div>
<div class="t" id="t210" style="top:237.3px;font-size:21.5px;color:#c6c6c6;right:10.5px;">赎回</div>
<div class="t" id="t211" style="top:270.5px;font-size:21.5px;color:#c6c6c6;left:1473.1px;">笔数</div>
<div class="t" id="t212" style="top:269.0px;font-size:23px;color:#f2f2f2;right:152.5px;transform:scaleX(0.983);transform-origin:100% 50%;">279</div>
<div class="t" id="t213" style="top:269.0px;font-size:23px;color:#f2f2f2;right:10.5px;transform:scaleX(1.016);transform-origin:100% 50%;">0</div>
<div class="t" id="t214" style="top:303.4px;font-size:21.5px;color:#c6c6c6;left:1473.1px;">金额</div>
<div class="t" id="t215" style="top:301.9px;font-size:23px;color:#f2f2f2;right:152.5px;transform:scaleX(1.016);transform-origin:100% 50%;">0</div>
<div class="t" id="t216" style="top:301.9px;font-size:23px;color:#f2f2f2;right:10.5px;transform:scaleX(1.016);transform-origin:100% 50%;">0</div>
<div class="t" id="t217" style="top:336.4px;font-size:21.5px;color:#c6c6c6;left:1473.1px;">份额</div>
<div class="t" id="t218" style="top:336.4px;font-size:21.5px;color:#f2f2f2;right:152.7px;">亿</div>
<div class="t" id="t219" style="top:334.9px;font-size:23px;color:#f2f2f2;right:173.3px;transform:scaleX(0.965);transform-origin:100% 50%;">6.34</div>
<div class="t" id="t220" style="top:334.9px;font-size:23px;color:#f2f2f2;right:10.5px;transform:scaleX(1.016);transform-origin:100% 50%;">0</div>
<div class="t b" id="t221" style="top:370.5px;font-size:20.8px;color:#ffffff;left:1469.1px;">申赎清单</div>
<div class="t" id="t222" style="top:402.6px;font-size:21.5px;color:#c6c6c6;left:1473.1px;">最小申赎单位份额</div>
<div class="t" id="t223" style="top:401.1px;font-size:23px;color:#f2f2f2;right:10.5px;transform:scaleX(0.961);transform-origin:100% 50%;">2,000,000</div>
<div class="t" id="t224" style="top:435.5px;font-size:21.5px;color:#c6c6c6;left:1473.1px;">现金替代比例上限</div>
<div class="t" id="t225" style="top:434.0px;font-size:23px;color:#f2f2f2;right:11.5px;transform:scaleX(0.966);transform-origin:100% 50%;">50%</div>
<div class="t" id="t226" style="top:468.0px;font-size:21.5px;color:#c6c6c6;left:1473.1px;">申购赎回允许情况</div>
<div class="t" id="t227" style="top:468.1px;font-size:21.3px;color:#ececec;right:10.0px;">申购赎回皆允许</div>
<div class="t" id="t228" style="top:500.1px;font-size:22.5px;color:#c6c6c6;left:1473.1px;transform:scaleX(0.981);transform-origin:0 50%;">T</div>
<div class="t" id="t229" style="top:501.3px;font-size:21.5px;color:#c6c6c6;left:1485.6px;">日预估现金差额</div>
<div class="t" id="t230" style="top:501.3px;font-size:21.5px;color:#f2f2f2;right:10.0px;">元</div>
<div class="t" id="t231" style="top:499.8px;font-size:23px;color:#f2f2f2;right:30.6px;transform:scaleX(0.967);transform-origin:100% 50%;">22899.35</div>
<div class="t" id="t232" style="top:532.2px;font-size:22.5px;color:#c6c6c6;left:1473.1px;transform:scaleX(1.017);transform-origin:0 50%;">T-1</div>
<div class="t" id="t233" style="top:533.4px;font-size:21.5px;color:#c6c6c6;left:1505.1px;">日单位申赎资产</div>
<div class="t" id="t234" style="top:533.4px;font-size:21.5px;color:#f2f2f2;right:10.0px;">元</div>
<div class="t" id="t235" style="top:531.9px;font-size:23px;color:#f2f2f2;right:30.6px;transform:scaleX(0.968);transform-origin:100% 50%;">1702181.35</div>
<div class="t b" id="t236" style="top:565.7px;font-size:20.8px;color:#ffffff;left:1468.8px;">近</div>
<div class="t b" id="t237" style="top:564.3px;font-size:22.3px;color:#ffffff;left:1489.6px;transform:scaleX(1.094);transform-origin:0 50%;">5</div>
<div class="t b" id="t238" style="top:565.7px;font-size:20.8px;color:#ffffff;left:1502.0px;">日净流入</div>
<div class="t b" id="t239" style="top:565.7px;font-size:20.8px;color:#ffffff;left:1776.3px;">单位</div>
<div class="t b" id="t240" style="top:564.3px;font-size:22.3px;color:#ffffff;left:1817.9px;transform:scaleX(1.093);transform-origin:0 50%;">(</div>
<div class="t b" id="t241" style="top:565.7px;font-size:20.8px;color:#ffffff;left:1824.8px;">万元</div>
<div class="t b" id="t242" style="top:564.3px;font-size:22.3px;color:#ffffff;left:1866.4px;transform:scaleX(1.093);transform-origin:0 50%;">)</div>
<div class="t" id="t243" style="top:674.2px;font-size:22.5px;color:#fb2b36;left:1513.5px;transform:translateX(-50%) scaleX(0.966);">24940</div>
<div class="t" id="t244" style="top:859.0px;font-size:22.5px;color:#bdbdbd;left:1513.5px;transform:translateX(-50%) scaleX(1.025);">8-18</div>
<div class="t" id="t245" style="top:674.2px;font-size:22.5px;color:#fb2b36;left:1595.5px;transform:translateX(-50%) scaleX(0.966);">24994</div>
<div class="t" id="t246" style="top:859.0px;font-size:22.5px;color:#bdbdbd;left:1595.5px;transform:translateX(-50%) scaleX(1.025);">8-19</div>
<div class="t" id="t247" style="top:746.3px;font-size:22.5px;color:#fb2b36;left:1677.5px;transform:translateX(-50%) scaleX(0.966);">10910</div>
<div class="t" id="t248" style="top:859.0px;font-size:22.5px;color:#bdbdbd;left:1677.5px;transform:translateX(-50%) scaleX(1.025);">8-20</div>
<div class="t" id="t249" style="top:615.7px;font-size:22.5px;color:#fb2b36;left:1759.5px;transform:translateX(-50%) scaleX(0.966);">36324</div>
<div class="t" id="t250" style="top:859.0px;font-size:22.5px;color:#bdbdbd;left:1759.5px;transform:translateX(-50%) scaleX(1.025);">8-21</div>
<div class="t" id="t251" style="top:661.8px;font-size:22.5px;color:#fb2b36;left:1841.5px;transform:translateX(-50%) scaleX(0.966);">27291</div>
<div class="t" id="t252" style="top:859.0px;font-size:22.5px;color:#bdbdbd;left:1841.5px;transform:translateX(-50%) scaleX(1.025);">8-22</div>
</body></html>
